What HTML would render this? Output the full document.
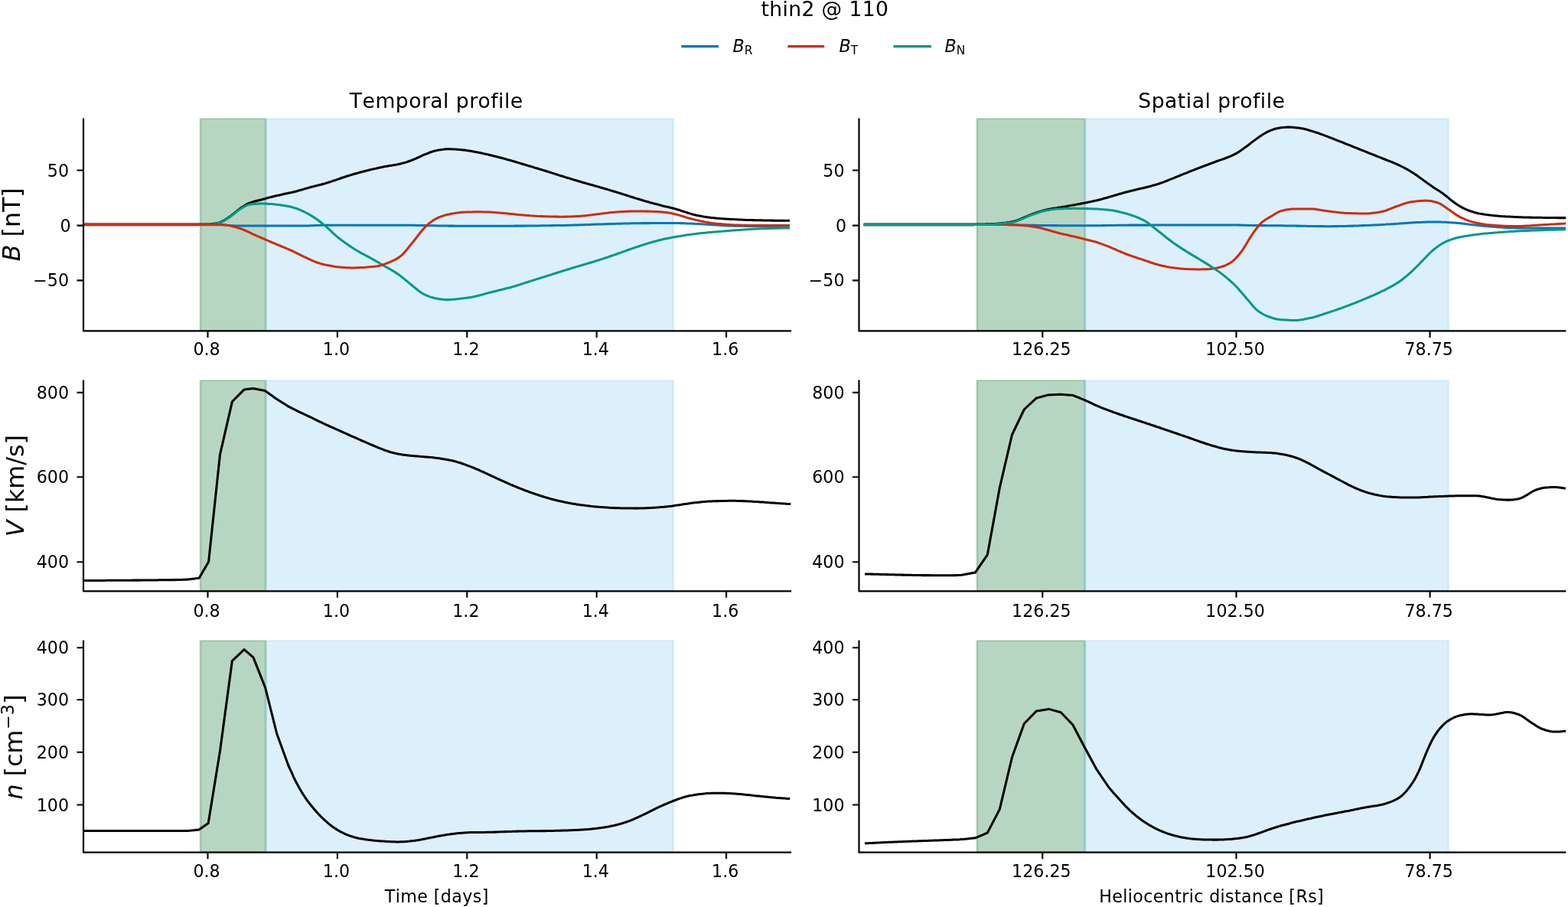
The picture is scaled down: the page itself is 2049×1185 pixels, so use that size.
<!DOCTYPE html>
<html lang="en">
<head>
<meta charset="utf-8">
<title>thin2 @ 110</title>
<style>
html,body{margin:0;padding:0;background:#fff;}
body{width:2049px;height:1185px;overflow:hidden;}
svg{display:block;}
</style>
</head>
<body>
<svg width="2049" height="1185" viewBox="0 0 2049 1185" font-family='"DejaVu Sans", "Liberation Sans", sans-serif' fill="#000" style="font-kerning:none;font-variant-ligatures:none">
<rect width="2049" height="1185" fill="#fff"/>
<defs>
<clipPath id="cpL1"><rect x="109.0" y="154.6" width="925.1" height="277.8"/></clipPath>
<clipPath id="cpL2"><rect x="109.0" y="496.6" width="925.1" height="275.7"/></clipPath>
<clipPath id="cpL3"><rect x="109.0" y="836.4" width="925.1" height="277.3"/></clipPath>
<clipPath id="cpR1"><rect x="1122.5" y="154.6" width="923.9" height="277.8"/></clipPath>
<clipPath id="cpR2"><rect x="1122.5" y="496.6" width="923.9" height="275.7"/></clipPath>
<clipPath id="cpR3"><rect x="1122.5" y="836.4" width="923.9" height="277.3"/></clipPath>
</defs>
<g>
<g clip-path="url(#cpL1)">
<rect x="261.9" y="154.6" width="85.4" height="277.8" fill="#117733" fill-opacity="0.3" stroke="#117733" stroke-opacity="0.26" stroke-width="2.78"/>
<rect x="347.25" y="154.6" width="532.5" height="277.8" fill="#88ccee" fill-opacity="0.3" stroke="#88ccee" stroke-opacity="0.26" stroke-width="2.78"/>
</g>
<g clip-path="url(#cpL1)" fill="none" stroke-width="3.05" stroke-linejoin="round" stroke-linecap="butt">
<path d="M109.0 292.9 L111.0 292.9 L113.0 292.9 L115.0 292.9 L117.0 292.9 L119.0 292.9 L121.0 292.9 L123.0 292.9 L125.0 292.9 L127.0 292.9 L129.0 292.9 L131.0 292.9 L133.0 292.9 L135.0 292.9 L137.0 292.9 L139.0 292.9 L141.0 292.9 L143.0 292.9 L145.0 292.9 L147.0 292.9 L149.0 292.9 L151.0 292.9 L153.0 292.9 L155.0 292.9 L157.0 292.9 L159.0 292.9 L161.0 292.9 L163.0 292.9 L165.0 292.9 L167.0 292.9 L169.0 292.9 L171.0 292.9 L173.0 292.9 L175.0 292.9 L177.0 292.9 L179.0 292.9 L181.0 292.9 L183.0 292.9 L185.0 292.9 L187.0 292.9 L189.0 292.9 L191.0 292.9 L193.0 292.9 L195.0 292.9 L197.0 292.9 L199.0 292.9 L201.0 292.9 L203.0 292.9 L205.0 292.9 L207.0 292.9 L209.0 292.9 L211.0 292.9 L213.0 292.9 L215.0 292.9 L217.0 292.9 L219.0 292.9 L221.0 292.9 L223.0 292.9 L225.0 292.9 L227.0 292.9 L229.0 292.9 L231.0 292.9 L233.0 292.9 L235.0 292.9 L237.0 292.9 L239.0 292.9 L241.0 292.9 L243.0 292.9 L245.0 292.9 L247.0 292.9 L249.0 292.9 L251.0 292.9 L253.0 292.9 L255.0 292.9 L257.0 292.9 L259.0 292.9 L261.0 292.9 L263.0 292.9 L265.0 292.9 L267.0 292.9 L269.0 292.9 L271.0 292.9 L273.0 292.9 L275.0 292.8 L277.0 292.6 L279.0 292.3 L281.0 292.0 L283.0 291.6 L285.0 291.2 L287.0 290.6 L289.0 289.9 L291.0 289.0 L293.0 287.9 L295.0 286.6 L297.0 285.2 L299.0 283.9 L301.0 282.5 L303.0 281.0 L305.0 279.4 L307.0 277.8 L309.0 276.1 L311.0 274.5 L313.0 273.0 L315.0 271.6 L317.0 270.2 L319.0 269.0 L321.0 267.8 L323.0 266.6 L325.0 265.7 L327.0 264.9 L329.0 264.2 L331.0 263.6 L333.0 263.1 L335.0 262.6 L337.0 262.1 L339.0 261.6 L341.0 261.0 L343.0 260.5 L345.0 259.9 L347.0 259.4 L349.0 258.8 L351.0 258.3 L353.0 257.8 L355.0 257.3 L357.0 256.8 L359.0 256.3 L361.0 255.8 L363.0 255.3 L365.0 254.9 L367.0 254.4 L369.0 254.0 L371.0 253.6 L373.0 253.1 L375.0 252.7 L377.0 252.3 L379.0 251.8 L381.0 251.4 L383.0 250.9 L385.0 250.4 L387.0 249.9 L389.0 249.4 L391.0 248.8 L393.0 248.3 L395.0 247.7 L397.0 247.1 L399.0 246.5 L401.0 245.9 L403.0 245.4 L405.0 244.8 L407.0 244.3 L409.0 243.8 L411.0 243.3 L413.0 242.8 L415.0 242.3 L417.0 241.8 L419.0 241.3 L421.0 240.7 L423.0 240.2 L425.0 239.6 L427.0 239.0 L429.0 238.4 L431.0 237.7 L433.0 237.1 L435.0 236.4 L437.0 235.7 L439.0 235.1 L441.0 234.4 L443.0 233.7 L445.0 233.0 L447.0 232.3 L449.0 231.6 L451.0 231.0 L453.0 230.3 L455.0 229.7 L457.0 229.1 L459.0 228.5 L461.0 227.9 L463.0 227.3 L465.0 226.7 L467.0 226.2 L469.0 225.6 L471.0 225.1 L473.0 224.5 L475.0 224.0 L477.0 223.5 L479.0 223.0 L481.0 222.5 L483.0 222.0 L485.0 221.5 L487.0 221.1 L489.0 220.6 L491.0 220.2 L493.0 219.7 L495.0 219.3 L497.0 218.8 L499.0 218.4 L501.0 218.0 L503.0 217.6 L505.0 217.3 L507.0 216.9 L509.0 216.6 L511.0 216.3 L513.0 216.0 L515.0 215.6 L517.0 215.3 L519.0 214.9 L521.0 214.5 L523.0 214.1 L525.0 213.6 L527.0 213.1 L529.0 212.5 L531.0 211.9 L533.0 211.2 L535.0 210.5 L537.0 209.8 L539.0 209.0 L541.0 208.2 L543.0 207.3 L545.0 206.4 L547.0 205.5 L549.0 204.6 L551.0 203.6 L553.0 202.7 L555.0 201.9 L557.0 201.1 L559.0 200.3 L561.0 199.5 L563.0 198.7 L565.0 198.0 L567.0 197.4 L569.0 196.9 L571.0 196.5 L573.0 196.1 L575.0 195.8 L577.0 195.4 L579.0 195.2 L581.0 194.9 L583.0 194.8 L585.0 194.8 L587.0 194.8 L589.0 194.8 L591.0 194.9 L593.0 195.0 L595.0 195.1 L597.0 195.2 L599.0 195.4 L601.0 195.5 L603.0 195.7 L605.0 195.9 L607.0 196.1 L609.0 196.4 L611.0 196.7 L613.0 197.0 L615.0 197.3 L617.0 197.7 L619.0 198.1 L621.0 198.5 L623.0 198.8 L625.0 199.2 L627.0 199.6 L629.0 200.0 L631.0 200.4 L633.0 200.9 L635.0 201.3 L637.0 201.8 L639.0 202.2 L641.0 202.7 L643.0 203.2 L645.0 203.7 L647.0 204.2 L649.0 204.7 L651.0 205.2 L653.0 205.7 L655.0 206.2 L657.0 206.8 L659.0 207.3 L661.0 207.9 L663.0 208.4 L665.0 209.0 L667.0 209.5 L669.0 210.1 L671.0 210.7 L673.0 211.3 L675.0 211.9 L677.0 212.5 L679.0 213.1 L681.0 213.7 L683.0 214.3 L685.0 214.9 L687.0 215.5 L689.0 216.1 L691.0 216.7 L693.0 217.3 L695.0 217.9 L697.0 218.5 L699.0 219.1 L701.0 219.7 L703.0 220.3 L705.0 220.9 L707.0 221.5 L709.0 222.1 L711.0 222.7 L713.0 223.3 L715.0 224.0 L717.0 224.6 L719.0 225.2 L721.0 225.9 L723.0 226.5 L725.0 227.1 L727.0 227.8 L729.0 228.4 L731.0 229.1 L733.0 229.7 L735.0 230.3 L737.0 230.9 L739.0 231.6 L741.0 232.2 L743.0 232.8 L745.0 233.4 L747.0 234.0 L749.0 234.6 L751.0 235.2 L753.0 235.8 L755.0 236.4 L757.0 237.0 L759.0 237.6 L761.0 238.2 L763.0 238.8 L765.0 239.3 L767.0 239.9 L769.0 240.5 L771.0 241.0 L773.0 241.6 L775.0 242.1 L777.0 242.7 L779.0 243.3 L781.0 243.8 L783.0 244.4 L785.0 245.0 L787.0 245.5 L789.0 246.1 L791.0 246.7 L793.0 247.3 L795.0 247.9 L797.0 248.5 L799.0 249.1 L801.0 249.7 L803.0 250.3 L805.0 250.9 L807.0 251.5 L809.0 252.1 L811.0 252.7 L813.0 253.4 L815.0 254.0 L817.0 254.6 L819.0 255.3 L821.0 255.9 L823.0 256.6 L825.0 257.2 L827.0 257.8 L829.0 258.5 L831.0 259.1 L833.0 259.7 L835.0 260.3 L837.0 260.9 L839.0 261.5 L841.0 262.1 L843.0 262.7 L845.0 263.3 L847.0 263.8 L849.0 264.4 L851.0 264.9 L853.0 265.5 L855.0 266.0 L857.0 266.6 L859.0 267.1 L861.0 267.6 L863.0 268.1 L865.0 268.7 L867.0 269.2 L869.0 269.7 L871.0 270.1 L873.0 270.6 L875.0 271.1 L877.0 271.6 L879.0 272.1 L881.0 272.6 L883.0 273.1 L885.0 273.7 L887.0 274.3 L889.0 274.9 L891.0 275.6 L893.0 276.2 L895.0 276.9 L897.0 277.5 L899.0 278.2 L901.0 278.8 L903.0 279.4 L905.0 279.9 L907.0 280.4 L909.0 280.9 L911.0 281.4 L913.0 281.8 L915.0 282.2 L917.0 282.6 L919.0 283.0 L921.0 283.3 L923.0 283.6 L925.0 283.9 L927.0 284.1 L929.0 284.4 L931.0 284.6 L933.0 284.8 L935.0 285.0 L937.0 285.2 L939.0 285.3 L941.0 285.5 L943.0 285.7 L945.0 285.8 L947.0 285.9 L949.0 286.1 L951.0 286.2 L953.0 286.3 L955.0 286.4 L957.0 286.5 L959.0 286.6 L961.0 286.7 L963.0 286.8 L965.0 286.9 L967.0 287.0 L969.0 287.1 L971.0 287.2 L973.0 287.3 L975.0 287.4 L977.0 287.4 L979.0 287.5 L981.0 287.5 L983.0 287.6 L985.0 287.6 L987.0 287.7 L989.0 287.7 L991.0 287.8 L993.0 287.8 L995.0 287.8 L997.0 287.9 L999.0 287.9 L1001.0 288.0 L1003.0 288.0 L1005.0 288.0 L1007.0 288.1 L1009.0 288.1 L1011.0 288.1 L1013.0 288.2 L1015.0 288.2 L1017.0 288.2 L1019.0 288.2 L1021.0 288.3 L1023.0 288.3 L1025.0 288.3 L1027.0 288.3 L1029.0 288.3 L1031.0 288.3 L1032.0 288.3" stroke="#000000"/>
<path d="M109.0 293.6 L111.0 293.6 L113.0 293.6 L115.0 293.6 L117.0 293.6 L119.0 293.6 L121.0 293.6 L123.0 293.6 L125.0 293.6 L127.0 293.6 L129.0 293.6 L131.0 293.6 L133.0 293.6 L135.0 293.6 L137.0 293.6 L139.0 293.6 L141.0 293.6 L143.0 293.6 L145.0 293.6 L147.0 293.6 L149.0 293.6 L151.0 293.6 L153.0 293.6 L155.0 293.6 L157.0 293.6 L159.0 293.6 L161.0 293.6 L163.0 293.6 L165.0 293.6 L167.0 293.6 L169.0 293.6 L171.0 293.6 L173.0 293.6 L175.0 293.6 L177.0 293.6 L179.0 293.6 L181.0 293.6 L183.0 293.6 L185.0 293.6 L187.0 293.6 L189.0 293.6 L191.0 293.6 L193.0 293.6 L195.0 293.6 L197.0 293.6 L199.0 293.6 L201.0 293.6 L203.0 293.6 L205.0 293.6 L207.0 293.6 L209.0 293.6 L211.0 293.6 L213.0 293.6 L215.0 293.6 L217.0 293.6 L219.0 293.6 L221.0 293.6 L223.0 293.6 L225.0 293.6 L227.0 293.6 L229.0 293.6 L231.0 293.6 L233.0 293.6 L235.0 293.6 L237.0 293.6 L239.0 293.6 L241.0 293.6 L243.0 293.6 L245.0 293.6 L247.0 293.6 L249.0 293.6 L251.0 293.6 L253.0 293.6 L255.0 293.6 L257.0 293.6 L259.0 293.6 L261.0 293.6 L263.0 293.6 L265.0 293.6 L267.0 293.6 L269.0 293.6 L271.0 293.6 L273.0 293.6 L275.0 293.6 L277.0 293.6 L279.0 293.6 L281.0 293.6 L283.0 293.6 L285.0 293.6 L287.0 293.6 L289.0 293.6 L291.0 293.7 L293.0 293.8 L295.0 294.1 L297.0 294.3 L299.0 294.5 L301.0 294.6 L303.0 294.7 L305.0 294.8 L307.0 294.9 L309.0 294.9 L311.0 294.9 L313.0 294.9 L315.0 294.9 L317.0 294.9 L319.0 294.9 L321.0 294.9 L323.0 294.9 L325.0 294.9 L327.0 294.9 L329.0 294.9 L331.0 294.9 L333.0 294.9 L335.0 294.9 L337.0 294.9 L339.0 294.9 L341.0 294.9 L343.0 294.9 L345.0 294.9 L347.0 294.9 L349.0 294.9 L351.0 294.9 L353.0 294.9 L355.0 294.9 L357.0 294.9 L359.0 294.9 L361.0 294.9 L363.0 294.9 L365.0 294.9 L367.0 294.9 L369.0 294.9 L371.0 294.9 L373.0 294.9 L375.0 294.9 L377.0 294.9 L379.0 294.9 L381.0 294.9 L383.0 294.9 L385.0 294.9 L387.0 294.9 L389.0 294.9 L391.0 294.9 L393.0 294.9 L395.0 294.9 L397.0 294.9 L399.0 294.9 L401.0 294.9 L403.0 294.9 L405.0 294.8 L407.0 294.8 L409.0 294.7 L411.0 294.6 L413.0 294.5 L415.0 294.4 L417.0 294.4 L419.0 294.3 L421.0 294.2 L423.0 294.2 L425.0 294.2 L427.0 294.2 L429.0 294.2 L431.0 294.2 L433.0 294.2 L435.0 294.2 L437.0 294.2 L439.0 294.2 L441.0 294.2 L443.0 294.2 L445.0 294.2 L447.0 294.2 L449.0 294.2 L451.0 294.2 L453.0 294.2 L455.0 294.2 L457.0 294.2 L459.0 294.2 L461.0 294.2 L463.0 294.2 L465.0 294.2 L467.0 294.2 L469.0 294.2 L471.0 294.2 L473.0 294.2 L475.0 294.2 L477.0 294.2 L479.0 294.2 L481.0 294.2 L483.0 294.2 L485.0 294.2 L487.0 294.2 L489.0 294.2 L491.0 294.2 L493.0 294.2 L495.0 294.2 L497.0 294.2 L499.0 294.2 L501.0 294.2 L503.0 294.2 L505.0 294.2 L507.0 294.2 L509.0 294.2 L511.0 294.2 L513.0 294.2 L515.0 294.2 L517.0 294.2 L519.0 294.2 L521.0 294.2 L523.0 294.2 L525.0 294.2 L527.0 294.2 L529.0 294.2 L531.0 294.2 L533.0 294.2 L535.0 294.2 L537.0 294.3 L539.0 294.3 L541.0 294.3 L543.0 294.4 L545.0 294.4 L547.0 294.4 L549.0 294.5 L551.0 294.5 L553.0 294.5 L555.0 294.6 L557.0 294.6 L559.0 294.7 L561.0 294.7 L563.0 294.7 L565.0 294.8 L567.0 294.8 L569.0 294.8 L571.0 294.9 L573.0 294.9 L575.0 294.9 L577.0 295.0 L579.0 295.0 L581.0 295.0 L583.0 295.0 L585.0 295.1 L587.0 295.1 L589.0 295.1 L591.0 295.1 L593.0 295.1 L595.0 295.2 L597.0 295.2 L599.0 295.2 L601.0 295.2 L603.0 295.2 L605.0 295.2 L607.0 295.2 L609.0 295.2 L611.0 295.2 L613.0 295.2 L615.0 295.2 L617.0 295.2 L619.0 295.2 L621.0 295.2 L623.0 295.2 L625.0 295.2 L627.0 295.2 L629.0 295.2 L631.0 295.2 L633.0 295.2 L635.0 295.2 L637.0 295.2 L639.0 295.2 L641.0 295.2 L643.0 295.2 L645.0 295.2 L647.0 295.2 L649.0 295.2 L651.0 295.2 L653.0 295.2 L655.0 295.2 L657.0 295.2 L659.0 295.2 L661.0 295.2 L663.0 295.2 L665.0 295.2 L667.0 295.2 L669.0 295.2 L671.0 295.2 L673.0 295.1 L675.0 295.1 L677.0 295.1 L679.0 295.1 L681.0 295.1 L683.0 295.1 L685.0 295.1 L687.0 295.1 L689.0 295.0 L691.0 295.0 L693.0 295.0 L695.0 295.0 L697.0 295.0 L699.0 294.9 L701.0 294.9 L703.0 294.9 L705.0 294.9 L707.0 294.8 L709.0 294.8 L711.0 294.8 L713.0 294.8 L715.0 294.7 L717.0 294.7 L719.0 294.7 L721.0 294.6 L723.0 294.6 L725.0 294.6 L727.0 294.5 L729.0 294.5 L731.0 294.5 L733.0 294.5 L735.0 294.4 L737.0 294.4 L739.0 294.4 L741.0 294.3 L743.0 294.3 L745.0 294.2 L747.0 294.2 L749.0 294.1 L751.0 294.0 L753.0 294.0 L755.0 293.9 L757.0 293.8 L759.0 293.8 L761.0 293.7 L763.0 293.6 L765.0 293.6 L767.0 293.5 L769.0 293.4 L771.0 293.4 L773.0 293.3 L775.0 293.2 L777.0 293.2 L779.0 293.1 L781.0 293.0 L783.0 293.0 L785.0 292.9 L787.0 292.9 L789.0 292.8 L791.0 292.8 L793.0 292.7 L795.0 292.6 L797.0 292.6 L799.0 292.5 L801.0 292.5 L803.0 292.4 L805.0 292.3 L807.0 292.3 L809.0 292.2 L811.0 292.2 L813.0 292.1 L815.0 292.0 L817.0 292.0 L819.0 292.0 L821.0 291.9 L823.0 291.9 L825.0 291.8 L827.0 291.8 L829.0 291.8 L831.0 291.7 L833.0 291.7 L835.0 291.7 L837.0 291.7 L839.0 291.6 L841.0 291.6 L843.0 291.6 L845.0 291.6 L847.0 291.6 L849.0 291.6 L851.0 291.5 L853.0 291.5 L855.0 291.5 L857.0 291.5 L859.0 291.5 L861.0 291.5 L863.0 291.5 L865.0 291.5 L867.0 291.5 L869.0 291.4 L871.0 291.4 L873.0 291.4 L875.0 291.4 L877.0 291.4 L879.0 291.4 L881.0 291.4 L883.0 291.5 L885.0 291.5 L887.0 291.5 L889.0 291.6 L891.0 291.6 L893.0 291.7 L895.0 291.8 L897.0 291.9 L899.0 291.9 L901.0 292.0 L903.0 292.1 L905.0 292.2 L907.0 292.3 L909.0 292.4 L911.0 292.5 L913.0 292.6 L915.0 292.7 L917.0 292.8 L919.0 292.9 L921.0 293.1 L923.0 293.2 L925.0 293.3 L927.0 293.4 L929.0 293.6 L931.0 293.7 L933.0 293.8 L935.0 293.9 L937.0 294.1 L939.0 294.2 L941.0 294.3 L943.0 294.4 L945.0 294.5 L947.0 294.7 L949.0 294.8 L951.0 294.9 L953.0 295.0 L955.0 295.0 L957.0 295.1 L959.0 295.2 L961.0 295.2 L963.0 295.2 L965.0 295.2 L967.0 295.3 L969.0 295.3 L971.0 295.3 L973.0 295.3 L975.0 295.4 L977.0 295.4 L979.0 295.4 L981.0 295.4 L983.0 295.4 L985.0 295.5 L987.0 295.5 L989.0 295.5 L991.0 295.5 L993.0 295.5 L995.0 295.5 L997.0 295.6 L999.0 295.6 L1001.0 295.6 L1003.0 295.6 L1005.0 295.6 L1007.0 295.6 L1009.0 295.6 L1011.0 295.6 L1013.0 295.6 L1015.0 295.6 L1017.0 295.7 L1019.0 295.7 L1021.0 295.7 L1023.0 295.7 L1025.0 295.7 L1027.0 295.7 L1029.0 295.7 L1031.0 295.7 L1032.0 295.7" stroke="#0077bb"/>
<path d="M109.0 293.5 L111.0 293.5 L113.0 293.5 L115.0 293.5 L117.0 293.5 L119.0 293.5 L121.0 293.5 L123.0 293.5 L125.0 293.5 L127.0 293.5 L129.0 293.5 L131.0 293.5 L133.0 293.5 L135.0 293.5 L137.0 293.5 L139.0 293.5 L141.0 293.5 L143.0 293.5 L145.0 293.5 L147.0 293.5 L149.0 293.5 L151.0 293.5 L153.0 293.5 L155.0 293.5 L157.0 293.5 L159.0 293.5 L161.0 293.5 L163.0 293.5 L165.0 293.5 L167.0 293.5 L169.0 293.5 L171.0 293.5 L173.0 293.5 L175.0 293.5 L177.0 293.5 L179.0 293.5 L181.0 293.5 L183.0 293.5 L185.0 293.5 L187.0 293.5 L189.0 293.5 L191.0 293.5 L193.0 293.5 L195.0 293.5 L197.0 293.5 L199.0 293.5 L201.0 293.5 L203.0 293.5 L205.0 293.5 L207.0 293.5 L209.0 293.5 L211.0 293.5 L213.0 293.5 L215.0 293.5 L217.0 293.5 L219.0 293.5 L221.0 293.5 L223.0 293.5 L225.0 293.5 L227.0 293.5 L229.0 293.5 L231.0 293.5 L233.0 293.5 L235.0 293.5 L237.0 293.5 L239.0 293.5 L241.0 293.5 L243.0 293.5 L245.0 293.5 L247.0 293.5 L249.0 293.5 L251.0 293.5 L253.0 293.5 L255.0 293.5 L257.0 293.5 L259.0 293.5 L261.0 293.4 L263.0 293.4 L265.0 293.4 L267.0 293.4 L269.0 293.4 L271.0 293.4 L273.0 293.4 L275.0 293.3 L277.0 293.1 L279.0 292.8 L281.0 292.5 L283.0 292.1 L285.0 291.6 L287.0 291.1 L289.0 290.4 L291.0 289.5 L293.0 288.4 L295.0 287.1 L297.0 285.8 L299.0 284.4 L301.0 283.0 L303.0 281.6 L305.0 280.0 L307.0 278.4 L309.0 276.8 L311.0 275.2 L313.0 273.8 L315.0 272.5 L317.0 271.3 L319.0 270.1 L321.0 269.0 L323.0 268.2 L325.0 267.5 L327.0 267.1 L329.0 266.8 L331.0 266.6 L333.0 266.4 L335.0 266.2 L337.0 266.1 L339.0 266.1 L341.0 266.0 L343.0 266.0 L345.0 266.1 L347.0 266.1 L349.0 266.2 L351.0 266.4 L353.0 266.5 L355.0 266.6 L357.0 266.8 L359.0 267.0 L361.0 267.2 L363.0 267.4 L365.0 267.6 L367.0 267.9 L369.0 268.2 L371.0 268.5 L373.0 268.8 L375.0 269.2 L377.0 269.6 L379.0 270.1 L381.0 270.6 L383.0 271.1 L385.0 271.7 L387.0 272.3 L389.0 273.0 L391.0 273.8 L393.0 274.7 L395.0 275.6 L397.0 276.5 L399.0 277.5 L401.0 278.5 L403.0 279.6 L405.0 280.7 L407.0 281.9 L409.0 283.1 L411.0 284.4 L413.0 285.8 L415.0 287.2 L417.0 288.7 L419.0 290.3 L421.0 291.8 L423.0 293.5 L425.0 295.1 L427.0 296.8 L429.0 298.6 L431.0 300.5 L433.0 302.4 L435.0 304.3 L437.0 306.2 L439.0 307.9 L441.0 309.6 L443.0 311.2 L445.0 312.8 L447.0 314.3 L449.0 315.8 L451.0 317.2 L453.0 318.6 L455.0 320.0 L457.0 321.4 L459.0 322.7 L461.0 324.0 L463.0 325.3 L465.0 326.5 L467.0 327.7 L469.0 328.9 L471.0 330.1 L473.0 331.2 L475.0 332.2 L477.0 333.3 L479.0 334.3 L481.0 335.4 L483.0 336.4 L485.0 337.5 L487.0 338.7 L489.0 339.8 L491.0 341.0 L493.0 342.1 L495.0 343.3 L497.0 344.5 L499.0 345.7 L501.0 346.8 L503.0 348.0 L505.0 349.1 L507.0 350.2 L509.0 351.3 L511.0 352.5 L513.0 353.6 L515.0 354.8 L517.0 356.1 L519.0 357.4 L521.0 358.8 L523.0 360.3 L525.0 361.9 L527.0 363.5 L529.0 365.2 L531.0 366.8 L533.0 368.4 L535.0 370.1 L537.0 371.7 L539.0 373.3 L541.0 375.0 L543.0 376.7 L545.0 378.3 L547.0 379.9 L549.0 381.4 L551.0 382.7 L553.0 383.9 L555.0 384.9 L557.0 385.8 L559.0 386.7 L561.0 387.4 L563.0 388.1 L565.0 388.7 L567.0 389.3 L569.0 389.7 L571.0 390.1 L573.0 390.4 L575.0 390.7 L577.0 391.0 L579.0 391.3 L581.0 391.4 L583.0 391.6 L585.0 391.6 L587.0 391.6 L589.0 391.4 L591.0 391.3 L593.0 391.1 L595.0 390.9 L597.0 390.7 L599.0 390.5 L601.0 390.3 L603.0 390.0 L605.0 389.8 L607.0 389.6 L609.0 389.3 L611.0 389.0 L613.0 388.7 L615.0 388.4 L617.0 388.1 L619.0 387.7 L621.0 387.3 L623.0 386.8 L625.0 386.3 L627.0 385.8 L629.0 385.2 L631.0 384.7 L633.0 384.1 L635.0 383.5 L637.0 383.0 L639.0 382.4 L641.0 381.9 L643.0 381.4 L645.0 380.9 L647.0 380.4 L649.0 379.9 L651.0 379.5 L653.0 379.0 L655.0 378.5 L657.0 378.1 L659.0 377.6 L661.0 377.1 L663.0 376.6 L665.0 376.1 L667.0 375.5 L669.0 375.0 L671.0 374.4 L673.0 373.8 L675.0 373.2 L677.0 372.5 L679.0 371.9 L681.0 371.2 L683.0 370.6 L685.0 369.9 L687.0 369.3 L689.0 368.7 L691.0 368.0 L693.0 367.4 L695.0 366.7 L697.0 366.1 L699.0 365.5 L701.0 364.9 L703.0 364.3 L705.0 363.6 L707.0 363.0 L709.0 362.4 L711.0 361.8 L713.0 361.1 L715.0 360.5 L717.0 359.9 L719.0 359.2 L721.0 358.6 L723.0 357.9 L725.0 357.3 L727.0 356.7 L729.0 356.0 L731.0 355.4 L733.0 354.8 L735.0 354.1 L737.0 353.5 L739.0 352.9 L741.0 352.3 L743.0 351.7 L745.0 351.1 L747.0 350.4 L749.0 349.8 L751.0 349.2 L753.0 348.6 L755.0 348.0 L757.0 347.5 L759.0 346.9 L761.0 346.3 L763.0 345.7 L765.0 345.1 L767.0 344.5 L769.0 343.9 L771.0 343.3 L773.0 342.7 L775.0 342.1 L777.0 341.5 L779.0 340.9 L781.0 340.3 L783.0 339.6 L785.0 339.0 L787.0 338.4 L789.0 337.7 L791.0 337.0 L793.0 336.4 L795.0 335.7 L797.0 335.0 L799.0 334.3 L801.0 333.6 L803.0 332.9 L805.0 332.2 L807.0 331.5 L809.0 330.8 L811.0 330.1 L813.0 329.3 L815.0 328.6 L817.0 327.9 L819.0 327.2 L821.0 326.5 L823.0 325.8 L825.0 325.1 L827.0 324.4 L829.0 323.7 L831.0 323.0 L833.0 322.4 L835.0 321.7 L837.0 321.0 L839.0 320.4 L841.0 319.7 L843.0 319.1 L845.0 318.5 L847.0 317.9 L849.0 317.3 L851.0 316.7 L853.0 316.1 L855.0 315.5 L857.0 314.9 L859.0 314.4 L861.0 313.9 L863.0 313.4 L865.0 312.9 L867.0 312.5 L869.0 312.1 L871.0 311.7 L873.0 311.3 L875.0 310.9 L877.0 310.5 L879.0 310.1 L881.0 309.8 L883.0 309.4 L885.0 309.1 L887.0 308.7 L889.0 308.4 L891.0 308.1 L893.0 307.8 L895.0 307.4 L897.0 307.1 L899.0 306.8 L901.0 306.5 L903.0 306.3 L905.0 306.0 L907.0 305.7 L909.0 305.5 L911.0 305.2 L913.0 305.0 L915.0 304.8 L917.0 304.6 L919.0 304.4 L921.0 304.2 L923.0 304.0 L925.0 303.8 L927.0 303.6 L929.0 303.4 L931.0 303.2 L933.0 303.1 L935.0 302.9 L937.0 302.7 L939.0 302.5 L941.0 302.4 L943.0 302.2 L945.0 302.1 L947.0 301.9 L949.0 301.7 L951.0 301.6 L953.0 301.4 L955.0 301.3 L957.0 301.1 L959.0 301.0 L961.0 300.8 L963.0 300.7 L965.0 300.5 L967.0 300.4 L969.0 300.2 L971.0 300.1 L973.0 299.9 L975.0 299.8 L977.0 299.7 L979.0 299.5 L981.0 299.4 L983.0 299.3 L985.0 299.2 L987.0 299.1 L989.0 299.0 L991.0 298.9 L993.0 298.8 L995.0 298.8 L997.0 298.7 L999.0 298.6 L1001.0 298.5 L1003.0 298.5 L1005.0 298.4 L1007.0 298.4 L1009.0 298.3 L1011.0 298.3 L1013.0 298.2 L1015.0 298.2 L1017.0 298.1 L1019.0 298.1 L1021.0 298.0 L1023.0 298.0 L1025.0 298.0 L1027.0 297.9 L1029.0 297.9 L1031.0 297.9 L1032.0 297.9" stroke="#009988"/>
<path d="M109.0 293.6 L111.0 293.6 L113.0 293.6 L115.0 293.6 L117.0 293.6 L119.0 293.6 L121.0 293.6 L123.0 293.6 L125.0 293.6 L127.0 293.6 L129.0 293.6 L131.0 293.6 L133.0 293.6 L135.0 293.6 L137.0 293.6 L139.0 293.6 L141.0 293.6 L143.0 293.6 L145.0 293.6 L147.0 293.6 L149.0 293.6 L151.0 293.6 L153.0 293.6 L155.0 293.6 L157.0 293.6 L159.0 293.6 L161.0 293.6 L163.0 293.6 L165.0 293.6 L167.0 293.6 L169.0 293.6 L171.0 293.6 L173.0 293.6 L175.0 293.6 L177.0 293.6 L179.0 293.6 L181.0 293.6 L183.0 293.6 L185.0 293.6 L187.0 293.6 L189.0 293.6 L191.0 293.6 L193.0 293.6 L195.0 293.6 L197.0 293.6 L199.0 293.6 L201.0 293.6 L203.0 293.6 L205.0 293.6 L207.0 293.6 L209.0 293.6 L211.0 293.6 L213.0 293.6 L215.0 293.6 L217.0 293.6 L219.0 293.6 L221.0 293.6 L223.0 293.6 L225.0 293.6 L227.0 293.6 L229.0 293.6 L231.0 293.6 L233.0 293.6 L235.0 293.6 L237.0 293.6 L239.0 293.6 L241.0 293.6 L243.0 293.6 L245.0 293.6 L247.0 293.6 L249.0 293.6 L251.0 293.6 L253.0 293.6 L255.0 293.6 L257.0 293.6 L259.0 293.6 L261.0 293.5 L263.0 293.5 L265.0 293.5 L267.0 293.5 L269.0 293.5 L271.0 293.5 L273.0 293.5 L275.0 293.4 L277.0 293.4 L279.0 293.4 L281.0 293.3 L283.0 293.3 L285.0 293.3 L287.0 293.4 L289.0 293.5 L291.0 293.7 L293.0 293.9 L295.0 294.1 L297.0 294.4 L299.0 294.6 L301.0 295.0 L303.0 295.4 L305.0 295.9 L307.0 296.4 L309.0 297.0 L311.0 297.6 L313.0 298.3 L315.0 299.0 L317.0 299.7 L319.0 300.5 L321.0 301.4 L323.0 302.3 L325.0 303.2 L327.0 304.2 L329.0 305.2 L331.0 306.1 L333.0 307.0 L335.0 307.9 L337.0 308.8 L339.0 309.7 L341.0 310.5 L343.0 311.4 L345.0 312.2 L347.0 313.1 L349.0 313.9 L351.0 314.8 L353.0 315.6 L355.0 316.5 L357.0 317.3 L359.0 318.2 L361.0 319.0 L363.0 319.9 L365.0 320.7 L367.0 321.5 L369.0 322.4 L371.0 323.2 L373.0 324.0 L375.0 324.9 L377.0 325.7 L379.0 326.6 L381.0 327.5 L383.0 328.4 L385.0 329.4 L387.0 330.3 L389.0 331.3 L391.0 332.3 L393.0 333.3 L395.0 334.3 L397.0 335.3 L399.0 336.2 L401.0 337.2 L403.0 338.1 L405.0 339.0 L407.0 340.0 L409.0 340.9 L411.0 341.7 L413.0 342.5 L415.0 343.2 L417.0 343.8 L419.0 344.4 L421.0 344.9 L423.0 345.4 L425.0 345.9 L427.0 346.3 L429.0 346.7 L431.0 347.1 L433.0 347.5 L435.0 347.8 L437.0 348.2 L439.0 348.5 L441.0 348.7 L443.0 349.0 L445.0 349.1 L447.0 349.3 L449.0 349.4 L451.0 349.6 L453.0 349.7 L455.0 349.8 L457.0 349.8 L459.0 349.9 L461.0 349.9 L463.0 349.9 L465.0 349.8 L467.0 349.7 L469.0 349.7 L471.0 349.6 L473.0 349.5 L475.0 349.4 L477.0 349.3 L479.0 349.1 L481.0 349.0 L483.0 348.8 L485.0 348.6 L487.0 348.4 L489.0 348.2 L491.0 347.9 L493.0 347.7 L495.0 347.3 L497.0 346.9 L499.0 346.3 L501.0 345.7 L503.0 345.0 L505.0 344.2 L507.0 343.4 L509.0 342.6 L511.0 341.7 L513.0 340.8 L515.0 339.9 L517.0 338.8 L519.0 337.7 L521.0 336.4 L523.0 335.0 L525.0 333.4 L527.0 331.4 L529.0 329.3 L531.0 326.9 L533.0 324.4 L535.0 321.9 L537.0 319.4 L539.0 316.9 L541.0 314.5 L543.0 312.0 L545.0 309.4 L547.0 306.8 L549.0 304.2 L551.0 301.7 L553.0 299.4 L555.0 297.2 L557.0 295.2 L559.0 293.4 L561.0 291.7 L563.0 290.2 L565.0 288.7 L567.0 287.4 L569.0 286.2 L571.0 285.1 L573.0 284.2 L575.0 283.4 L577.0 282.6 L579.0 282.0 L581.0 281.4 L583.0 280.8 L585.0 280.3 L587.0 279.9 L589.0 279.5 L591.0 279.1 L593.0 278.8 L595.0 278.4 L597.0 278.1 L599.0 277.9 L601.0 277.6 L603.0 277.5 L605.0 277.3 L607.0 277.2 L609.0 277.1 L611.0 277.0 L613.0 277.0 L615.0 276.9 L617.0 276.9 L619.0 276.8 L621.0 276.8 L623.0 276.8 L625.0 276.8 L627.0 276.8 L629.0 276.8 L631.0 276.9 L633.0 276.9 L635.0 276.9 L637.0 277.0 L639.0 277.1 L641.0 277.2 L643.0 277.3 L645.0 277.4 L647.0 277.6 L649.0 277.7 L651.0 277.9 L653.0 278.1 L655.0 278.3 L657.0 278.4 L659.0 278.6 L661.0 278.8 L663.0 279.0 L665.0 279.2 L667.0 279.4 L669.0 279.6 L671.0 279.8 L673.0 280.0 L675.0 280.2 L677.0 280.4 L679.0 280.7 L681.0 280.8 L683.0 281.0 L685.0 281.2 L687.0 281.3 L689.0 281.5 L691.0 281.6 L693.0 281.8 L695.0 281.9 L697.0 282.0 L699.0 282.2 L701.0 282.3 L703.0 282.4 L705.0 282.5 L707.0 282.6 L709.0 282.6 L711.0 282.7 L713.0 282.8 L715.0 282.8 L717.0 282.9 L719.0 282.9 L721.0 283.0 L723.0 283.0 L725.0 283.1 L727.0 283.1 L729.0 283.1 L731.0 283.2 L733.0 283.2 L735.0 283.2 L737.0 283.2 L739.0 283.1 L741.0 283.1 L743.0 283.0 L745.0 283.0 L747.0 282.9 L749.0 282.8 L751.0 282.7 L753.0 282.6 L755.0 282.5 L757.0 282.4 L759.0 282.2 L761.0 282.1 L763.0 281.9 L765.0 281.7 L767.0 281.5 L769.0 281.3 L771.0 281.0 L773.0 280.8 L775.0 280.5 L777.0 280.2 L779.0 279.9 L781.0 279.7 L783.0 279.4 L785.0 279.2 L787.0 278.9 L789.0 278.7 L791.0 278.5 L793.0 278.3 L795.0 278.0 L797.0 277.8 L799.0 277.6 L801.0 277.4 L803.0 277.2 L805.0 277.0 L807.0 276.9 L809.0 276.7 L811.0 276.6 L813.0 276.5 L815.0 276.4 L817.0 276.3 L819.0 276.2 L821.0 276.1 L823.0 276.1 L825.0 276.0 L827.0 276.0 L829.0 275.9 L831.0 275.9 L833.0 275.9 L835.0 276.0 L837.0 276.0 L839.0 276.0 L841.0 276.0 L843.0 276.1 L845.0 276.1 L847.0 276.1 L849.0 276.2 L851.0 276.2 L853.0 276.3 L855.0 276.4 L857.0 276.5 L859.0 276.6 L861.0 276.7 L863.0 276.8 L865.0 277.0 L867.0 277.2 L869.0 277.4 L871.0 277.6 L873.0 277.9 L875.0 278.2 L877.0 278.6 L879.0 279.0 L881.0 279.5 L883.0 280.0 L885.0 280.5 L887.0 281.0 L889.0 281.6 L891.0 282.2 L893.0 282.8 L895.0 283.5 L897.0 284.1 L899.0 284.7 L901.0 285.2 L903.0 285.8 L905.0 286.3 L907.0 286.8 L909.0 287.4 L911.0 287.8 L913.0 288.3 L915.0 288.7 L917.0 289.1 L919.0 289.5 L921.0 289.9 L923.0 290.2 L925.0 290.6 L927.0 290.9 L929.0 291.2 L931.0 291.5 L933.0 291.7 L935.0 291.9 L937.0 292.2 L939.0 292.4 L941.0 292.6 L943.0 292.8 L945.0 293.0 L947.0 293.1 L949.0 293.3 L951.0 293.5 L953.0 293.6 L955.0 293.7 L957.0 293.8 L959.0 293.9 L961.0 294.0 L963.0 294.0 L965.0 294.1 L967.0 294.1 L969.0 294.2 L971.0 294.2 L973.0 294.3 L975.0 294.3 L977.0 294.4 L979.0 294.4 L981.0 294.4 L983.0 294.4 L985.0 294.4 L987.0 294.4 L989.0 294.4 L991.0 294.4 L993.0 294.4 L995.0 294.4 L997.0 294.4 L999.0 294.4 L1001.0 294.4 L1003.0 294.4 L1005.0 294.4 L1007.0 294.4 L1009.0 294.4 L1011.0 294.4 L1013.0 294.4 L1015.0 294.4 L1017.0 294.4 L1019.0 294.4 L1021.0 294.4 L1023.0 294.4 L1025.0 294.4 L1027.0 294.4 L1029.0 294.4 L1031.0 294.4 L1032.0 294.4" stroke="#d02c0e"/>
</g>
<path d="M109.0 154.6 V432.4 H1034.1" fill="none" stroke="#000" stroke-width="2.2" stroke-linecap="butt" stroke-linejoin="round"/>
<path d="M271.5 432.4 v8.5M440.9 432.4 v8.5M610.3 432.4 v8.5M779.7 432.4 v8.5M949.1 432.4 v8.5M109.0 222.5 h-8.5M109.0 294.6 h-8.5M109.0 366.4 h-8.5" stroke="#000" stroke-width="2.1" fill="none"/>
<g font-size="22.2">
<text x="270.1" y="464.2" text-anchor="middle">0.8</text>
<text x="439.5" y="464.2" text-anchor="middle">1.0</text>
<text x="608.9" y="464.2" text-anchor="middle">1.2</text>
<text x="778.3" y="464.2" text-anchor="middle">1.4</text>
<text x="947.7" y="464.2" text-anchor="middle">1.6</text>
<text x="90.1" y="230.5" text-anchor="end">50</text>
<text x="92.5" y="302.6" text-anchor="end">0</text>
<text x="90.1" y="374.4" text-anchor="end">−50</text>
</g>
</g>
<g>
<g clip-path="url(#cpL2)">
<rect x="261.9" y="496.6" width="85.4" height="275.7" fill="#117733" fill-opacity="0.3" stroke="#117733" stroke-opacity="0.26" stroke-width="2.78"/>
<rect x="347.25" y="496.6" width="532.5" height="275.7" fill="#88ccee" fill-opacity="0.3" stroke="#88ccee" stroke-opacity="0.26" stroke-width="2.78"/>
</g>
<g clip-path="url(#cpL2)" fill="none" stroke-width="3.05" stroke-linejoin="round" stroke-linecap="butt">
<path d="M109.5 758.4 L111.5 758.4 L113.5 758.4 L115.5 758.4 L117.5 758.4 L119.5 758.4 L121.5 758.4 L123.5 758.4 L125.5 758.4 L127.5 758.4 L129.5 758.4 L131.5 758.4 L133.5 758.4 L135.5 758.4 L137.5 758.4 L139.5 758.3 L141.5 758.3 L143.5 758.3 L145.5 758.3 L147.5 758.3 L149.5 758.3 L151.5 758.3 L153.5 758.3 L155.5 758.3 L157.5 758.2 L159.5 758.2 L161.5 758.2 L163.5 758.2 L165.5 758.2 L167.5 758.2 L169.5 758.2 L171.5 758.2 L173.5 758.1 L175.5 758.1 L177.5 758.1 L179.5 758.1 L181.5 758.1 L183.5 758.1 L185.5 758.0 L187.5 758.0 L189.5 758.0 L191.5 758.0 L193.5 758.0 L195.5 758.0 L197.5 757.9 L199.5 757.9 L201.5 757.9 L203.5 757.9 L205.5 757.9 L207.5 757.8 L209.5 757.8 L211.5 757.8 L213.5 757.8 L215.5 757.8 L217.5 757.7 L219.5 757.7 L221.5 757.7 L223.5 757.7 L225.5 757.6 L227.5 757.6 L229.5 757.6 L231.5 757.5 L233.5 757.5 L235.5 757.4 L237.5 757.4 L239.5 757.3 L241.5 757.2 L243.5 757.1 L246.1 757.1 L260.2 755.2 L272.6 734.1 L287.5 593.8 L303.4 524.8 L318.9 509.1 L330.7 507.6 L346.3 510.6 L361.4 521.3 L377.1 531.1 L379.5 532.3 L381.5 533.4 L383.5 534.4 L385.5 535.4 L387.5 536.4 L389.5 537.4 L391.5 538.3 L393.5 539.3 L395.5 540.2 L397.5 541.2 L399.5 542.1 L401.5 543.1 L403.5 544.0 L405.5 544.9 L407.5 545.9 L409.5 546.9 L411.5 547.8 L413.5 548.8 L415.5 549.8 L417.5 550.8 L419.5 551.7 L421.5 552.7 L423.5 553.6 L425.5 554.6 L427.5 555.5 L429.5 556.4 L431.5 557.3 L433.5 558.2 L435.5 559.0 L437.5 559.9 L439.5 560.8 L441.5 561.7 L443.5 562.6 L445.5 563.5 L447.5 564.4 L449.5 565.3 L451.5 566.2 L453.5 567.1 L455.5 568.0 L457.5 568.9 L459.5 569.8 L461.5 570.7 L463.5 571.5 L465.5 572.4 L467.5 573.3 L469.5 574.2 L471.5 575.1 L473.5 576.0 L475.5 576.8 L477.5 577.7 L479.5 578.6 L481.5 579.4 L483.5 580.3 L485.5 581.1 L487.5 582.0 L489.5 582.8 L491.5 583.6 L493.5 584.5 L495.5 585.3 L497.5 586.1 L499.5 586.9 L501.5 587.7 L503.5 588.4 L505.5 589.1 L507.5 589.8 L509.5 590.5 L511.5 591.1 L513.5 591.6 L515.5 592.1 L517.5 592.5 L519.5 592.9 L521.5 593.3 L523.5 593.6 L525.5 594.0 L527.5 594.2 L529.5 594.5 L531.5 594.8 L533.5 595.0 L535.5 595.2 L537.5 595.4 L539.5 595.6 L541.5 595.8 L543.5 596.0 L545.5 596.1 L547.5 596.3 L549.5 596.4 L551.5 596.6 L553.5 596.7 L555.5 596.9 L557.5 597.0 L559.5 597.2 L561.5 597.4 L563.5 597.6 L565.5 597.8 L567.5 598.0 L569.5 598.3 L571.5 598.5 L573.5 598.8 L575.5 599.1 L577.5 599.4 L579.5 599.7 L581.5 600.1 L583.5 600.4 L585.5 600.8 L587.5 601.2 L589.5 601.6 L591.5 602.0 L593.5 602.5 L595.5 603.0 L597.5 603.6 L599.5 604.2 L601.5 604.8 L603.5 605.5 L605.5 606.2 L607.5 606.9 L609.5 607.7 L611.5 608.4 L613.5 609.1 L615.5 609.9 L617.5 610.7 L619.5 611.5 L621.5 612.3 L623.5 613.2 L625.5 614.0 L627.5 614.9 L629.5 615.8 L631.5 616.7 L633.5 617.7 L635.5 618.6 L637.5 619.5 L639.5 620.5 L641.5 621.4 L643.5 622.3 L645.5 623.2 L647.5 624.2 L649.5 625.1 L651.5 626.0 L653.5 626.9 L655.5 627.8 L657.5 628.7 L659.5 629.6 L661.5 630.5 L663.5 631.4 L665.5 632.3 L667.5 633.2 L669.5 634.0 L671.5 634.9 L673.5 635.7 L675.5 636.5 L677.5 637.3 L679.5 638.1 L681.5 638.9 L683.5 639.7 L685.5 640.5 L687.5 641.2 L689.5 641.9 L691.5 642.7 L693.5 643.4 L695.5 644.1 L697.5 644.8 L699.5 645.5 L701.5 646.1 L703.5 646.8 L705.5 647.5 L707.5 648.1 L709.5 648.7 L711.5 649.4 L713.5 650.0 L715.5 650.5 L717.5 651.1 L719.5 651.7 L721.5 652.2 L723.5 652.7 L725.5 653.2 L727.5 653.7 L729.5 654.2 L731.5 654.7 L733.5 655.1 L735.5 655.6 L737.5 656.0 L739.5 656.4 L741.5 656.8 L743.5 657.2 L745.5 657.5 L747.5 657.9 L749.5 658.2 L751.5 658.6 L753.5 658.9 L755.5 659.2 L757.5 659.5 L759.5 659.8 L761.5 660.0 L763.5 660.3 L765.5 660.6 L767.5 660.8 L769.5 661.0 L771.5 661.3 L773.5 661.5 L775.5 661.7 L777.5 661.9 L779.5 662.0 L781.5 662.2 L783.5 662.4 L785.5 662.5 L787.5 662.7 L789.5 662.8 L791.5 663.0 L793.5 663.1 L795.5 663.2 L797.5 663.4 L799.5 663.5 L801.5 663.6 L803.5 663.6 L805.5 663.7 L807.5 663.8 L809.5 663.8 L811.5 663.9 L813.5 663.9 L815.5 663.9 L817.5 664.0 L819.5 664.0 L821.5 664.0 L823.5 664.0 L825.5 664.0 L827.5 664.0 L829.5 664.1 L831.5 664.1 L833.5 664.1 L835.5 664.0 L837.5 664.0 L839.5 664.0 L841.5 663.9 L843.5 663.8 L845.5 663.8 L847.5 663.7 L849.5 663.6 L851.5 663.5 L853.5 663.3 L855.5 663.2 L857.5 663.1 L859.5 662.9 L861.5 662.8 L863.5 662.6 L865.5 662.4 L867.5 662.3 L869.5 662.1 L871.5 661.9 L873.5 661.6 L875.5 661.4 L877.5 661.2 L879.5 660.9 L881.5 660.6 L883.5 660.3 L885.5 660.1 L887.5 659.7 L889.5 659.4 L891.5 659.1 L893.5 658.8 L895.5 658.5 L897.5 658.2 L899.5 657.9 L901.5 657.6 L903.5 657.3 L905.5 657.1 L907.5 656.8 L909.5 656.6 L911.5 656.4 L913.5 656.2 L915.5 656.0 L917.5 655.8 L919.5 655.6 L921.5 655.4 L923.5 655.3 L925.5 655.1 L927.5 655.0 L929.5 654.9 L931.5 654.8 L933.5 654.8 L935.5 654.7 L937.5 654.6 L939.5 654.6 L941.5 654.5 L943.5 654.5 L945.5 654.4 L947.5 654.4 L949.5 654.4 L951.5 654.3 L953.5 654.3 L955.5 654.3 L957.5 654.3 L959.5 654.3 L961.5 654.3 L963.5 654.4 L965.5 654.4 L967.5 654.5 L969.5 654.6 L971.5 654.6 L973.5 654.7 L975.5 654.8 L977.5 654.9 L979.5 655.0 L981.5 655.1 L983.5 655.2 L985.5 655.4 L987.5 655.5 L989.5 655.6 L991.5 655.7 L993.5 655.9 L995.5 656.0 L997.5 656.1 L999.5 656.3 L1001.5 656.4 L1003.5 656.6 L1005.5 656.7 L1007.5 656.9 L1009.5 657.0 L1011.5 657.1 L1013.5 657.3 L1015.5 657.4 L1017.5 657.6 L1019.5 657.7 L1021.5 657.8 L1023.5 658.0 L1025.5 658.1 L1027.5 658.2 L1029.5 658.4 L1031.5 658.5 L1033.4 658.6" stroke="#000000"/>
</g>
<path d="M109.0 496.6 V772.3 H1034.1" fill="none" stroke="#000" stroke-width="2.2" stroke-linecap="butt" stroke-linejoin="round"/>
<path d="M271.5 772.3 v8.5M440.9 772.3 v8.5M610.3 772.3 v8.5M779.7 772.3 v8.5M949.1 772.3 v8.5M109.0 512.9 h-8.5M109.0 623.3 h-8.5M109.0 734.3 h-8.5" stroke="#000" stroke-width="2.1" fill="none"/>
<g font-size="22.2">
<text x="270.1" y="806.0" text-anchor="middle">0.8</text>
<text x="439.5" y="806.0" text-anchor="middle">1.0</text>
<text x="608.9" y="806.0" text-anchor="middle">1.2</text>
<text x="778.3" y="806.0" text-anchor="middle">1.4</text>
<text x="947.7" y="806.0" text-anchor="middle">1.6</text>
<text x="90.1" y="520.9" text-anchor="end">800</text>
<text x="90.1" y="631.3" text-anchor="end">600</text>
<text x="90.1" y="742.3" text-anchor="end">400</text>
</g>
</g>
<g>
<g clip-path="url(#cpL3)">
<rect x="261.9" y="836.4" width="85.4" height="277.3" fill="#117733" fill-opacity="0.3" stroke="#117733" stroke-opacity="0.26" stroke-width="2.78"/>
<rect x="347.25" y="836.4" width="532.5" height="277.3" fill="#88ccee" fill-opacity="0.3" stroke="#88ccee" stroke-opacity="0.26" stroke-width="2.78"/>
</g>
<g clip-path="url(#cpL3)" fill="none" stroke-width="3.05" stroke-linejoin="round" stroke-linecap="butt">
<path d="M109.5 1085.4 L111.5 1085.4 L113.5 1085.4 L115.5 1085.4 L117.5 1085.4 L119.5 1085.4 L121.5 1085.4 L123.5 1085.4 L125.5 1085.4 L127.5 1085.4 L129.5 1085.4 L131.5 1085.4 L133.5 1085.4 L135.5 1085.4 L137.5 1085.4 L139.5 1085.4 L141.5 1085.4 L143.5 1085.4 L145.5 1085.4 L147.5 1085.4 L149.5 1085.4 L151.5 1085.4 L153.5 1085.4 L155.5 1085.4 L157.5 1085.4 L159.5 1085.4 L161.5 1085.4 L163.5 1085.4 L165.5 1085.4 L167.5 1085.4 L169.5 1085.4 L171.5 1085.4 L173.5 1085.4 L175.5 1085.4 L177.5 1085.4 L179.5 1085.4 L181.5 1085.4 L183.5 1085.4 L185.5 1085.4 L187.5 1085.4 L189.5 1085.4 L191.5 1085.4 L193.5 1085.4 L195.5 1085.4 L197.5 1085.4 L199.5 1085.4 L201.5 1085.4 L203.5 1085.4 L205.5 1085.4 L207.5 1085.4 L209.5 1085.4 L211.5 1085.4 L213.5 1085.4 L215.5 1085.4 L217.5 1085.4 L219.5 1085.4 L221.5 1085.4 L223.5 1085.4 L225.5 1085.4 L227.5 1085.4 L229.5 1085.4 L231.5 1085.4 L233.5 1085.4 L235.5 1085.4 L237.5 1085.4 L239.5 1085.4 L241.5 1085.4 L243.5 1085.4 L244.9 1085.4 L260.0 1084.1 L272.2 1075.6 L287.7 979.9 L303.4 863.3 L319.1 848.6 L331.0 858.9 L346.7 898.5 L361.7 958.5 L377.0 1000.5 L379.5 1005.8 L381.5 1010.2 L383.5 1014.8 L385.5 1019.0 L387.5 1022.9 L389.5 1026.6 L391.5 1030.2 L393.5 1033.6 L395.5 1036.9 L397.5 1040.0 L399.5 1043.0 L401.5 1045.8 L403.5 1048.5 L405.5 1051.1 L407.5 1053.5 L409.5 1055.9 L411.5 1058.3 L413.5 1060.6 L415.5 1062.8 L417.5 1064.9 L419.5 1067.0 L421.5 1068.9 L423.5 1070.8 L425.5 1072.7 L427.5 1074.4 L429.5 1076.1 L431.5 1077.7 L433.5 1079.2 L435.5 1080.7 L437.5 1082.1 L439.5 1083.4 L441.5 1084.6 L443.5 1085.8 L445.5 1086.9 L447.5 1087.9 L449.5 1088.9 L451.5 1089.8 L453.5 1090.7 L455.5 1091.4 L457.5 1092.2 L459.5 1092.8 L461.5 1093.4 L463.5 1094.0 L465.5 1094.5 L467.5 1095.0 L469.5 1095.4 L471.5 1095.7 L473.5 1096.1 L475.5 1096.4 L477.5 1096.7 L479.5 1097.0 L481.5 1097.2 L483.5 1097.5 L485.5 1097.7 L487.5 1098.0 L489.5 1098.2 L491.5 1098.4 L493.5 1098.5 L495.5 1098.7 L497.5 1098.9 L499.5 1099.0 L501.5 1099.1 L503.5 1099.3 L505.5 1099.4 L507.5 1099.5 L509.5 1099.6 L511.5 1099.7 L513.5 1099.8 L515.5 1099.8 L517.5 1099.9 L519.5 1099.9 L521.5 1099.9 L523.5 1099.8 L525.5 1099.8 L527.5 1099.7 L529.5 1099.6 L531.5 1099.4 L533.5 1099.2 L535.5 1099.1 L537.5 1098.8 L539.5 1098.6 L541.5 1098.4 L543.5 1098.1 L545.5 1097.8 L547.5 1097.4 L549.5 1097.1 L551.5 1096.7 L553.5 1096.3 L555.5 1095.9 L557.5 1095.5 L559.5 1095.1 L561.5 1094.7 L563.5 1094.3 L565.5 1093.9 L567.5 1093.5 L569.5 1093.1 L571.5 1092.7 L573.5 1092.3 L575.5 1091.9 L577.5 1091.6 L579.5 1091.2 L581.5 1090.9 L583.5 1090.5 L585.5 1090.2 L587.5 1090.0 L589.5 1089.7 L591.5 1089.4 L593.5 1089.2 L595.5 1089.0 L597.5 1088.8 L599.5 1088.6 L601.5 1088.4 L603.5 1088.2 L605.5 1088.1 L607.5 1087.9 L609.5 1087.8 L611.5 1087.7 L613.5 1087.6 L615.5 1087.5 L617.5 1087.5 L619.5 1087.5 L621.5 1087.4 L623.5 1087.4 L625.5 1087.4 L627.5 1087.4 L629.5 1087.4 L631.5 1087.4 L633.5 1087.4 L635.5 1087.3 L637.5 1087.3 L639.5 1087.3 L641.5 1087.2 L643.5 1087.2 L645.5 1087.1 L647.5 1087.1 L649.5 1087.0 L651.5 1086.9 L653.5 1086.8 L655.5 1086.8 L657.5 1086.7 L659.5 1086.6 L661.5 1086.6 L663.5 1086.5 L665.5 1086.4 L667.5 1086.4 L669.5 1086.3 L671.5 1086.2 L673.5 1086.2 L675.5 1086.1 L677.5 1086.1 L679.5 1086.0 L681.5 1086.0 L683.5 1085.9 L685.5 1085.9 L687.5 1085.9 L689.5 1085.8 L691.5 1085.8 L693.5 1085.8 L695.5 1085.8 L697.5 1085.7 L699.5 1085.7 L701.5 1085.7 L703.5 1085.7 L705.5 1085.7 L707.5 1085.6 L709.5 1085.6 L711.5 1085.6 L713.5 1085.6 L715.5 1085.5 L717.5 1085.5 L719.5 1085.5 L721.5 1085.4 L723.5 1085.4 L725.5 1085.3 L727.5 1085.3 L729.5 1085.2 L731.5 1085.2 L733.5 1085.1 L735.5 1085.1 L737.5 1085.0 L739.5 1085.0 L741.5 1084.9 L743.5 1084.8 L745.5 1084.8 L747.5 1084.7 L749.5 1084.6 L751.5 1084.5 L753.5 1084.4 L755.5 1084.3 L757.5 1084.2 L759.5 1084.1 L761.5 1084.0 L763.5 1083.8 L765.5 1083.7 L767.5 1083.5 L769.5 1083.4 L771.5 1083.2 L773.5 1083.0 L775.5 1082.8 L777.5 1082.6 L779.5 1082.4 L781.5 1082.1 L783.5 1081.8 L785.5 1081.6 L787.5 1081.3 L789.5 1081.0 L791.5 1080.6 L793.5 1080.3 L795.5 1079.9 L797.5 1079.5 L799.5 1079.1 L801.5 1078.7 L803.5 1078.2 L805.5 1077.7 L807.5 1077.2 L809.5 1076.7 L811.5 1076.1 L813.5 1075.5 L815.5 1074.9 L817.5 1074.3 L819.5 1073.6 L821.5 1072.9 L823.5 1072.1 L825.5 1071.3 L827.5 1070.5 L829.5 1069.6 L831.5 1068.7 L833.5 1067.8 L835.5 1066.9 L837.5 1066.0 L839.5 1065.0 L841.5 1064.0 L843.5 1063.1 L845.5 1062.1 L847.5 1061.1 L849.5 1060.1 L851.5 1059.1 L853.5 1058.1 L855.5 1057.1 L857.5 1056.1 L859.5 1055.1 L861.5 1054.2 L863.5 1053.3 L865.5 1052.4 L867.5 1051.5 L869.5 1050.6 L871.5 1049.8 L873.5 1048.9 L875.5 1048.1 L877.5 1047.3 L879.5 1046.5 L881.5 1045.8 L883.5 1045.0 L885.5 1044.3 L887.5 1043.6 L889.5 1042.9 L891.5 1042.2 L893.5 1041.6 L895.5 1041.1 L897.5 1040.6 L899.5 1040.1 L901.5 1039.6 L903.5 1039.2 L905.5 1038.9 L907.5 1038.5 L909.5 1038.2 L911.5 1037.9 L913.5 1037.6 L915.5 1037.4 L917.5 1037.2 L919.5 1036.9 L921.5 1036.8 L923.5 1036.6 L925.5 1036.5 L927.5 1036.4 L929.5 1036.3 L931.5 1036.2 L933.5 1036.2 L935.5 1036.2 L937.5 1036.2 L939.5 1036.2 L941.5 1036.2 L943.5 1036.2 L945.5 1036.2 L947.5 1036.3 L949.5 1036.4 L951.5 1036.4 L953.5 1036.5 L955.5 1036.7 L957.5 1036.8 L959.5 1036.9 L961.5 1037.1 L963.5 1037.2 L965.5 1037.4 L967.5 1037.6 L969.5 1037.8 L971.5 1038.0 L973.5 1038.2 L975.5 1038.4 L977.5 1038.6 L979.5 1038.8 L981.5 1039.0 L983.5 1039.2 L985.5 1039.5 L987.5 1039.7 L989.5 1039.9 L991.5 1040.1 L993.5 1040.3 L995.5 1040.5 L997.5 1040.7 L999.5 1040.9 L1001.5 1041.1 L1003.5 1041.3 L1005.5 1041.5 L1007.5 1041.7 L1009.5 1041.8 L1011.5 1042.0 L1013.5 1042.2 L1015.5 1042.4 L1017.5 1042.5 L1019.5 1042.7 L1021.5 1042.8 L1023.5 1043.0 L1025.5 1043.1 L1027.5 1043.3 L1029.5 1043.4 L1031.5 1043.5 L1032.3 1043.6" stroke="#000000"/>
</g>
<path d="M109.0 836.4 V1113.7 H1034.1" fill="none" stroke="#000" stroke-width="2.2" stroke-linecap="butt" stroke-linejoin="round"/>
<path d="M271.5 1113.7 v8.5M440.9 1113.7 v8.5M610.3 1113.7 v8.5M779.7 1113.7 v8.5M949.1 1113.7 v8.5M109.0 846.2 h-8.5M109.0 914.3 h-8.5M109.0 982.8 h-8.5M109.0 1051.5 h-8.5" stroke="#000" stroke-width="2.1" fill="none"/>
<g font-size="22.2">
<text x="270.1" y="1145.6" text-anchor="middle">0.8</text>
<text x="439.5" y="1145.6" text-anchor="middle">1.0</text>
<text x="608.9" y="1145.6" text-anchor="middle">1.2</text>
<text x="778.3" y="1145.6" text-anchor="middle">1.4</text>
<text x="947.7" y="1145.6" text-anchor="middle">1.6</text>
<text x="90.1" y="854.2" text-anchor="end">400</text>
<text x="90.1" y="922.3" text-anchor="end">300</text>
<text x="90.1" y="990.8" text-anchor="end">200</text>
<text x="90.1" y="1059.5" text-anchor="end">100</text>
</g>
</g>
<g>
<g clip-path="url(#cpR1)">
<rect x="1276.8" y="154.6" width="141.0" height="277.8" fill="#117733" fill-opacity="0.3" stroke="#117733" stroke-opacity="0.26" stroke-width="2.78"/>
<rect x="1417.8" y="154.6" width="475.0" height="277.8" fill="#88ccee" fill-opacity="0.3" stroke="#88ccee" stroke-opacity="0.26" stroke-width="2.78"/>
</g>
<g clip-path="url(#cpR1)" fill="none" stroke-width="3.05" stroke-linejoin="round" stroke-linecap="butt">
<path d="M1128.6 292.9 L1130.6 292.9 L1132.6 292.9 L1134.6 292.9 L1136.6 292.9 L1138.6 292.9 L1140.6 292.9 L1142.6 292.9 L1144.6 292.9 L1146.6 292.9 L1148.6 292.9 L1150.6 292.9 L1152.6 292.9 L1154.6 292.9 L1156.6 292.9 L1158.6 292.9 L1160.6 292.9 L1162.6 292.9 L1164.6 292.9 L1166.6 292.9 L1168.6 292.9 L1170.6 292.9 L1172.6 292.9 L1174.6 292.9 L1176.6 292.9 L1178.6 292.9 L1180.6 292.9 L1182.6 292.9 L1184.6 292.9 L1186.6 292.9 L1188.6 292.9 L1190.6 292.9 L1192.6 292.9 L1194.6 292.9 L1196.6 292.9 L1198.6 292.9 L1200.6 292.9 L1202.6 292.9 L1204.6 292.9 L1206.6 292.9 L1208.6 292.9 L1210.6 292.9 L1212.6 292.9 L1214.6 292.9 L1216.6 292.9 L1218.6 292.9 L1220.6 292.9 L1222.6 292.9 L1224.6 292.9 L1226.6 292.9 L1228.6 292.9 L1230.6 292.9 L1232.6 292.9 L1234.6 292.9 L1236.6 292.9 L1238.6 292.9 L1240.6 292.9 L1242.6 292.9 L1244.6 292.9 L1246.6 292.9 L1248.6 292.9 L1250.6 292.9 L1252.6 292.9 L1254.6 292.9 L1256.6 292.9 L1258.6 292.9 L1260.6 292.9 L1262.6 292.9 L1264.6 292.9 L1266.6 292.9 L1268.6 292.9 L1270.6 292.9 L1272.6 292.9 L1274.6 292.9 L1276.6 292.9 L1278.6 292.9 L1280.6 292.9 L1282.6 292.9 L1284.6 292.9 L1286.6 292.9 L1288.6 292.8 L1290.6 292.8 L1292.6 292.7 L1294.6 292.7 L1296.6 292.6 L1298.6 292.5 L1300.6 292.4 L1302.6 292.2 L1304.6 292.0 L1306.6 291.9 L1308.6 291.6 L1310.6 291.4 L1312.6 291.2 L1314.6 291.0 L1316.6 290.7 L1318.6 290.4 L1320.6 290.1 L1322.6 289.7 L1324.6 289.3 L1326.6 288.8 L1328.6 288.2 L1330.6 287.4 L1332.6 286.6 L1334.6 285.7 L1336.6 284.8 L1338.6 283.9 L1340.6 283.1 L1342.6 282.3 L1344.6 281.5 L1346.6 280.7 L1348.6 279.9 L1350.6 279.2 L1352.6 278.5 L1354.6 277.8 L1356.6 277.1 L1358.6 276.5 L1360.6 275.9 L1362.6 275.3 L1364.6 274.7 L1366.6 274.2 L1368.6 273.8 L1370.6 273.3 L1372.6 273.0 L1374.6 272.6 L1376.6 272.3 L1378.6 272.0 L1380.6 271.7 L1382.6 271.3 L1384.6 271.0 L1386.6 270.7 L1388.6 270.3 L1390.6 270.0 L1392.6 269.7 L1394.6 269.3 L1396.6 269.0 L1398.6 268.6 L1400.6 268.3 L1402.6 267.9 L1404.6 267.6 L1406.6 267.2 L1408.6 266.8 L1410.6 266.5 L1412.6 266.1 L1414.6 265.7 L1416.6 265.3 L1418.6 264.9 L1420.6 264.5 L1422.6 264.1 L1424.6 263.7 L1426.6 263.2 L1428.6 262.8 L1430.6 262.3 L1432.6 261.9 L1434.6 261.4 L1436.6 260.9 L1438.6 260.4 L1440.6 259.9 L1442.6 259.3 L1444.6 258.8 L1446.6 258.2 L1448.6 257.6 L1450.6 257.0 L1452.6 256.5 L1454.6 255.9 L1456.6 255.3 L1458.6 254.7 L1460.6 254.1 L1462.6 253.5 L1464.6 252.9 L1466.6 252.4 L1468.6 251.8 L1470.6 251.3 L1472.6 250.8 L1474.6 250.3 L1476.6 249.8 L1478.6 249.3 L1480.6 248.8 L1482.6 248.3 L1484.6 247.8 L1486.6 247.3 L1488.6 246.8 L1490.6 246.3 L1492.6 245.9 L1494.6 245.4 L1496.6 244.9 L1498.6 244.4 L1500.6 243.9 L1502.6 243.4 L1504.6 242.9 L1506.6 242.3 L1508.6 241.8 L1510.6 241.2 L1512.6 240.6 L1514.6 240.0 L1516.6 239.3 L1518.6 238.6 L1520.6 237.9 L1522.6 237.1 L1524.6 236.3 L1526.6 235.5 L1528.6 234.7 L1530.6 233.9 L1532.6 233.1 L1534.6 232.3 L1536.6 231.4 L1538.6 230.6 L1540.6 229.8 L1542.6 229.0 L1544.6 228.2 L1546.6 227.4 L1548.6 226.6 L1550.6 225.8 L1552.6 225.0 L1554.6 224.2 L1556.6 223.4 L1558.6 222.6 L1560.6 221.8 L1562.6 221.0 L1564.6 220.3 L1566.6 219.5 L1568.6 218.7 L1570.6 218.0 L1572.6 217.2 L1574.6 216.5 L1576.6 215.7 L1578.6 215.0 L1580.6 214.2 L1582.6 213.5 L1584.6 212.7 L1586.6 212.0 L1588.6 211.2 L1590.6 210.5 L1592.6 209.8 L1594.6 209.1 L1596.6 208.4 L1598.6 207.7 L1600.6 207.0 L1602.6 206.2 L1604.6 205.5 L1606.6 204.7 L1608.6 203.8 L1610.6 202.9 L1612.6 202.0 L1614.6 200.9 L1616.6 199.8 L1618.6 198.6 L1620.6 197.2 L1622.6 195.8 L1624.6 194.4 L1626.6 192.9 L1628.6 191.4 L1630.6 190.0 L1632.6 188.5 L1634.6 186.9 L1636.6 185.4 L1638.6 183.9 L1640.6 182.4 L1642.6 180.9 L1644.6 179.5 L1646.6 178.1 L1648.6 176.8 L1650.6 175.5 L1652.6 174.3 L1654.6 173.2 L1656.6 172.2 L1658.6 171.2 L1660.6 170.4 L1662.6 169.6 L1664.6 168.8 L1666.6 168.2 L1668.6 167.7 L1670.6 167.4 L1672.6 167.1 L1674.6 166.8 L1676.6 166.6 L1678.6 166.4 L1680.6 166.2 L1682.6 166.1 L1684.6 166.1 L1686.6 166.2 L1688.6 166.3 L1690.6 166.5 L1692.6 166.7 L1694.6 166.9 L1696.6 167.1 L1698.6 167.4 L1700.6 167.7 L1702.6 168.1 L1704.6 168.6 L1706.6 169.1 L1708.6 169.6 L1710.6 170.2 L1712.6 170.8 L1714.6 171.4 L1716.6 172.0 L1718.6 172.6 L1720.6 173.3 L1722.6 173.9 L1724.6 174.7 L1726.6 175.4 L1728.6 176.1 L1730.6 176.9 L1732.6 177.6 L1734.6 178.4 L1736.6 179.1 L1738.6 179.9 L1740.6 180.7 L1742.6 181.5 L1744.6 182.3 L1746.6 183.1 L1748.6 183.9 L1750.6 184.7 L1752.6 185.4 L1754.6 186.2 L1756.6 187.0 L1758.6 187.8 L1760.6 188.6 L1762.6 189.4 L1764.6 190.2 L1766.6 191.0 L1768.6 191.8 L1770.6 192.6 L1772.6 193.4 L1774.6 194.2 L1776.6 195.0 L1778.6 195.8 L1780.6 196.6 L1782.6 197.4 L1784.6 198.2 L1786.6 199.0 L1788.6 199.8 L1790.6 200.6 L1792.6 201.4 L1794.6 202.2 L1796.6 203.0 L1798.6 203.8 L1800.6 204.6 L1802.6 205.4 L1804.6 206.2 L1806.6 207.0 L1808.6 207.8 L1810.6 208.5 L1812.6 209.3 L1814.6 210.1 L1816.6 210.9 L1818.6 211.7 L1820.6 212.5 L1822.6 213.3 L1824.6 214.2 L1826.6 215.1 L1828.6 216.0 L1830.6 217.0 L1832.6 218.0 L1834.6 219.0 L1836.6 220.1 L1838.6 221.2 L1840.6 222.3 L1842.6 223.5 L1844.6 224.7 L1846.6 226.0 L1848.6 227.3 L1850.6 228.6 L1852.6 230.0 L1854.6 231.5 L1856.6 232.9 L1858.6 234.4 L1860.6 235.9 L1862.6 237.3 L1864.6 238.8 L1866.6 240.2 L1868.6 241.6 L1870.6 243.0 L1872.6 244.4 L1874.6 245.8 L1876.6 247.0 L1878.6 248.3 L1880.6 249.5 L1882.6 250.8 L1884.6 252.2 L1886.6 253.6 L1888.6 255.2 L1890.6 256.8 L1892.6 258.4 L1894.6 260.1 L1896.6 261.7 L1898.6 263.3 L1900.6 264.8 L1902.6 266.2 L1904.6 267.5 L1906.6 268.7 L1908.6 270.0 L1910.6 271.1 L1912.6 272.2 L1914.6 273.1 L1916.6 274.0 L1918.6 274.8 L1920.6 275.5 L1922.6 276.2 L1924.6 276.8 L1926.6 277.4 L1928.6 277.9 L1930.6 278.4 L1932.6 278.9 L1934.6 279.3 L1936.6 279.6 L1938.6 280.0 L1940.6 280.3 L1942.6 280.6 L1944.6 280.8 L1946.6 281.1 L1948.6 281.3 L1950.6 281.5 L1952.6 281.7 L1954.6 281.9 L1956.6 282.1 L1958.6 282.3 L1960.6 282.4 L1962.6 282.6 L1964.6 282.7 L1966.6 282.8 L1968.6 282.9 L1970.6 283.0 L1972.6 283.1 L1974.6 283.2 L1976.6 283.3 L1978.6 283.4 L1980.6 283.5 L1982.6 283.6 L1984.6 283.7 L1986.6 283.7 L1988.6 283.8 L1990.6 283.9 L1992.6 283.9 L1994.6 284.0 L1996.6 284.0 L1998.6 284.1 L2000.6 284.1 L2002.6 284.2 L2004.6 284.2 L2006.6 284.2 L2008.6 284.3 L2010.6 284.3 L2012.6 284.3 L2014.6 284.3 L2016.6 284.4 L2018.6 284.4 L2020.6 284.4 L2022.6 284.4 L2024.6 284.5 L2026.6 284.5 L2028.6 284.5 L2030.6 284.5 L2032.6 284.5 L2034.6 284.6 L2036.6 284.6 L2038.6 284.6 L2040.6 284.6 L2042.6 284.6 L2044.6 284.6 L2046.5 284.6" stroke="#000000"/>
<path d="M1128.6 293.6 L1130.6 293.6 L1132.6 293.6 L1134.6 293.6 L1136.6 293.6 L1138.6 293.6 L1140.6 293.6 L1142.6 293.6 L1144.6 293.6 L1146.6 293.6 L1148.6 293.6 L1150.6 293.6 L1152.6 293.6 L1154.6 293.6 L1156.6 293.6 L1158.6 293.6 L1160.6 293.6 L1162.6 293.6 L1164.6 293.6 L1166.6 293.6 L1168.6 293.6 L1170.6 293.6 L1172.6 293.6 L1174.6 293.6 L1176.6 293.6 L1178.6 293.6 L1180.6 293.6 L1182.6 293.6 L1184.6 293.6 L1186.6 293.6 L1188.6 293.6 L1190.6 293.6 L1192.6 293.6 L1194.6 293.6 L1196.6 293.6 L1198.6 293.6 L1200.6 293.6 L1202.6 293.6 L1204.6 293.6 L1206.6 293.6 L1208.6 293.6 L1210.6 293.6 L1212.6 293.6 L1214.6 293.6 L1216.6 293.6 L1218.6 293.6 L1220.6 293.6 L1222.6 293.6 L1224.6 293.6 L1226.6 293.6 L1228.6 293.6 L1230.6 293.6 L1232.6 293.6 L1234.6 293.6 L1236.6 293.6 L1238.6 293.6 L1240.6 293.6 L1242.6 293.6 L1244.6 293.6 L1246.6 293.6 L1248.6 293.6 L1250.6 293.6 L1252.6 293.6 L1254.6 293.6 L1256.6 293.6 L1258.6 293.6 L1260.6 293.6 L1262.6 293.6 L1264.6 293.6 L1266.6 293.6 L1268.6 293.6 L1270.6 293.6 L1272.6 293.6 L1274.6 293.5 L1276.6 293.5 L1278.6 293.5 L1280.6 293.5 L1282.6 293.5 L1284.6 293.5 L1286.6 293.5 L1288.6 293.5 L1290.6 293.5 L1292.6 293.5 L1294.6 293.5 L1296.6 293.4 L1298.6 293.4 L1300.6 293.4 L1302.6 293.4 L1304.6 293.4 L1306.6 293.4 L1308.6 293.4 L1310.6 293.4 L1312.6 293.5 L1314.6 293.5 L1316.6 293.5 L1318.6 293.6 L1320.6 293.6 L1322.6 293.7 L1324.6 293.7 L1326.6 293.8 L1328.6 293.8 L1330.6 293.9 L1332.6 293.9 L1334.6 294.0 L1336.6 294.0 L1338.6 294.1 L1340.6 294.1 L1342.6 294.1 L1344.6 294.2 L1346.6 294.2 L1348.6 294.3 L1350.6 294.3 L1352.6 294.3 L1354.6 294.4 L1356.6 294.4 L1358.6 294.4 L1360.6 294.4 L1362.6 294.5 L1364.6 294.5 L1366.6 294.5 L1368.6 294.5 L1370.6 294.5 L1372.6 294.6 L1374.6 294.6 L1376.6 294.6 L1378.6 294.6 L1380.6 294.6 L1382.6 294.7 L1384.6 294.7 L1386.6 294.7 L1388.6 294.7 L1390.6 294.7 L1392.6 294.7 L1394.6 294.8 L1396.6 294.8 L1398.6 294.8 L1400.6 294.8 L1402.6 294.8 L1404.6 294.8 L1406.6 294.8 L1408.6 294.8 L1410.6 294.8 L1412.6 294.8 L1414.6 294.8 L1416.6 294.8 L1418.6 294.8 L1420.6 294.8 L1422.6 294.8 L1424.6 294.8 L1426.6 294.8 L1428.6 294.8 L1430.6 294.8 L1432.6 294.8 L1434.6 294.7 L1436.6 294.7 L1438.6 294.7 L1440.6 294.6 L1442.6 294.6 L1444.6 294.6 L1446.6 294.5 L1448.6 294.5 L1450.6 294.5 L1452.6 294.4 L1454.6 294.4 L1456.6 294.4 L1458.6 294.3 L1460.6 294.3 L1462.6 294.3 L1464.6 294.3 L1466.6 294.2 L1468.6 294.2 L1470.6 294.2 L1472.6 294.2 L1474.6 294.2 L1476.6 294.1 L1478.6 294.1 L1480.6 294.1 L1482.6 294.1 L1484.6 294.1 L1486.6 294.1 L1488.6 294.1 L1490.6 294.1 L1492.6 294.1 L1494.6 294.1 L1496.6 294.1 L1498.6 294.1 L1500.6 294.1 L1502.6 294.1 L1504.6 294.0 L1506.6 294.0 L1508.6 294.0 L1510.6 294.0 L1512.6 294.0 L1514.6 294.0 L1516.6 294.0 L1518.6 294.0 L1520.6 294.0 L1522.6 294.0 L1524.6 294.0 L1526.6 294.0 L1528.6 294.0 L1530.6 294.0 L1532.6 294.0 L1534.6 294.0 L1536.6 294.0 L1538.6 294.0 L1540.6 294.0 L1542.6 294.0 L1544.6 294.0 L1546.6 294.0 L1548.6 294.0 L1550.6 293.9 L1552.6 293.9 L1554.6 293.9 L1556.6 293.9 L1558.6 293.9 L1560.6 293.9 L1562.6 293.9 L1564.6 293.9 L1566.6 293.9 L1568.6 293.9 L1570.6 293.9 L1572.6 293.9 L1574.6 293.9 L1576.6 293.9 L1578.6 293.9 L1580.6 293.9 L1582.6 293.9 L1584.6 293.9 L1586.6 293.9 L1588.6 293.9 L1590.6 293.9 L1592.6 293.9 L1594.6 293.9 L1596.6 293.9 L1598.6 293.9 L1600.6 293.9 L1602.6 293.9 L1604.6 293.9 L1606.6 293.9 L1608.6 293.9 L1610.6 293.9 L1612.6 293.9 L1614.6 294.0 L1616.6 294.0 L1618.6 294.1 L1620.6 294.1 L1622.6 294.2 L1624.6 294.2 L1626.6 294.3 L1628.6 294.3 L1630.6 294.4 L1632.6 294.4 L1634.6 294.5 L1636.6 294.5 L1638.6 294.5 L1640.6 294.5 L1642.6 294.6 L1644.6 294.6 L1646.6 294.6 L1648.6 294.6 L1650.6 294.6 L1652.6 294.6 L1654.6 294.7 L1656.6 294.7 L1658.6 294.7 L1660.6 294.7 L1662.6 294.7 L1664.6 294.7 L1666.6 294.8 L1668.6 294.8 L1670.6 294.8 L1672.6 294.8 L1674.6 294.8 L1676.6 294.8 L1678.6 294.9 L1680.6 294.9 L1682.6 294.9 L1684.6 294.9 L1686.6 295.0 L1688.6 295.0 L1690.6 295.0 L1692.6 295.1 L1694.6 295.1 L1696.6 295.1 L1698.6 295.2 L1700.6 295.2 L1702.6 295.2 L1704.6 295.3 L1706.6 295.3 L1708.6 295.4 L1710.6 295.4 L1712.6 295.4 L1714.6 295.5 L1716.6 295.5 L1718.6 295.5 L1720.6 295.6 L1722.6 295.6 L1724.6 295.6 L1726.6 295.6 L1728.6 295.6 L1730.6 295.7 L1732.6 295.7 L1734.6 295.7 L1736.6 295.7 L1738.6 295.7 L1740.6 295.7 L1742.6 295.6 L1744.6 295.6 L1746.6 295.6 L1748.6 295.6 L1750.6 295.5 L1752.6 295.5 L1754.6 295.5 L1756.6 295.4 L1758.6 295.4 L1760.6 295.3 L1762.6 295.2 L1764.6 295.2 L1766.6 295.1 L1768.6 295.1 L1770.6 295.0 L1772.6 294.9 L1774.6 294.9 L1776.6 294.8 L1778.6 294.7 L1780.6 294.6 L1782.6 294.6 L1784.6 294.5 L1786.6 294.4 L1788.6 294.4 L1790.6 294.3 L1792.6 294.2 L1794.6 294.1 L1796.6 294.0 L1798.6 293.9 L1800.6 293.8 L1802.6 293.7 L1804.6 293.6 L1806.6 293.5 L1808.6 293.4 L1810.6 293.3 L1812.6 293.1 L1814.6 293.0 L1816.6 292.9 L1818.6 292.8 L1820.6 292.7 L1822.6 292.5 L1824.6 292.4 L1826.6 292.3 L1828.6 292.1 L1830.6 292.0 L1832.6 291.8 L1834.6 291.7 L1836.6 291.5 L1838.6 291.4 L1840.6 291.2 L1842.6 291.1 L1844.6 290.9 L1846.6 290.8 L1848.6 290.7 L1850.6 290.6 L1852.6 290.5 L1854.6 290.5 L1856.6 290.4 L1858.6 290.3 L1860.6 290.2 L1862.6 290.2 L1864.6 290.1 L1866.6 290.0 L1868.6 290.0 L1870.6 290.0 L1872.6 289.9 L1874.6 289.9 L1876.6 290.0 L1878.6 290.0 L1880.6 290.0 L1882.6 290.1 L1884.6 290.2 L1886.6 290.2 L1888.6 290.3 L1890.6 290.4 L1892.6 290.5 L1894.6 290.7 L1896.6 290.8 L1898.6 290.9 L1900.6 291.0 L1902.6 291.2 L1904.6 291.4 L1906.6 291.6 L1908.6 291.8 L1910.6 292.0 L1912.6 292.3 L1914.6 292.5 L1916.6 292.8 L1918.6 293.0 L1920.6 293.3 L1922.6 293.5 L1924.6 293.7 L1926.6 293.9 L1928.6 294.1 L1930.6 294.4 L1932.6 294.6 L1934.6 294.8 L1936.6 295.0 L1938.6 295.2 L1940.6 295.4 L1942.6 295.6 L1944.6 295.8 L1946.6 296.0 L1948.6 296.1 L1950.6 296.3 L1952.6 296.4 L1954.6 296.5 L1956.6 296.7 L1958.6 296.8 L1960.6 296.9 L1962.6 297.0 L1964.6 297.2 L1966.6 297.3 L1968.6 297.4 L1970.6 297.5 L1972.6 297.6 L1974.6 297.7 L1976.6 297.7 L1978.6 297.8 L1980.6 297.8 L1982.6 297.9 L1984.6 297.9 L1986.6 297.9 L1988.6 297.9 L1990.6 297.9 L1992.6 297.9 L1994.6 297.9 L1996.6 297.9 L1998.6 297.9 L2000.6 297.9 L2002.6 297.9 L2004.6 297.9 L2006.6 297.9 L2008.6 297.9 L2010.6 297.9 L2012.6 297.9 L2014.6 297.9 L2016.6 297.9 L2018.6 297.9 L2020.6 297.9 L2022.6 297.9 L2024.6 297.9 L2026.6 297.9 L2028.6 297.9 L2030.6 297.9 L2032.6 297.9 L2034.6 297.9 L2036.6 297.9 L2038.6 297.9 L2040.6 297.9 L2042.6 297.9 L2044.6 297.9 L2046.3 297.9" stroke="#0077bb"/>
<path d="M1128.6 293.6 L1130.6 293.6 L1132.6 293.6 L1134.6 293.6 L1136.6 293.6 L1138.6 293.6 L1140.6 293.6 L1142.6 293.6 L1144.6 293.6 L1146.6 293.6 L1148.6 293.6 L1150.6 293.6 L1152.6 293.6 L1154.6 293.6 L1156.6 293.6 L1158.6 293.6 L1160.6 293.6 L1162.6 293.6 L1164.6 293.6 L1166.6 293.6 L1168.6 293.6 L1170.6 293.6 L1172.6 293.6 L1174.6 293.6 L1176.6 293.6 L1178.6 293.6 L1180.6 293.6 L1182.6 293.6 L1184.6 293.6 L1186.6 293.6 L1188.6 293.6 L1190.6 293.6 L1192.6 293.6 L1194.6 293.6 L1196.6 293.6 L1198.6 293.6 L1200.6 293.6 L1202.6 293.6 L1204.6 293.6 L1206.6 293.6 L1208.6 293.6 L1210.6 293.6 L1212.6 293.6 L1214.6 293.6 L1216.6 293.6 L1218.6 293.6 L1220.6 293.6 L1222.6 293.6 L1224.6 293.6 L1226.6 293.6 L1228.6 293.6 L1230.6 293.6 L1232.6 293.6 L1234.6 293.6 L1236.6 293.6 L1238.6 293.6 L1240.6 293.6 L1242.6 293.6 L1244.6 293.6 L1246.6 293.6 L1248.6 293.6 L1250.6 293.6 L1252.6 293.6 L1254.6 293.6 L1256.6 293.6 L1258.6 293.6 L1260.6 293.6 L1262.6 293.6 L1264.6 293.6 L1266.6 293.6 L1268.6 293.6 L1270.6 293.6 L1272.6 293.6 L1274.6 293.5 L1276.6 293.5 L1278.6 293.5 L1280.6 293.5 L1282.6 293.5 L1284.6 293.5 L1286.6 293.5 L1288.6 293.5 L1290.6 293.5 L1292.6 293.5 L1294.6 293.5 L1296.6 293.4 L1298.6 293.4 L1300.6 293.4 L1302.6 293.4 L1304.6 293.4 L1306.6 293.4 L1308.6 293.4 L1310.6 293.4 L1312.6 293.5 L1314.6 293.5 L1316.6 293.6 L1318.6 293.6 L1320.6 293.7 L1322.6 293.8 L1324.6 293.8 L1326.6 293.9 L1328.6 294.0 L1330.6 294.1 L1332.6 294.3 L1334.6 294.4 L1336.6 294.6 L1338.6 294.7 L1340.6 294.9 L1342.6 295.1 L1344.6 295.3 L1346.6 295.6 L1348.6 295.9 L1350.6 296.2 L1352.6 296.5 L1354.6 296.8 L1356.6 297.2 L1358.6 297.6 L1360.6 298.1 L1362.6 298.6 L1364.6 299.2 L1366.6 299.7 L1368.6 300.3 L1370.6 300.8 L1372.6 301.4 L1374.6 302.0 L1376.6 302.6 L1378.6 303.1 L1380.6 303.7 L1382.6 304.2 L1384.6 304.8 L1386.6 305.3 L1388.6 305.7 L1390.6 306.2 L1392.6 306.6 L1394.6 307.0 L1396.6 307.5 L1398.6 307.9 L1400.6 308.4 L1402.6 308.8 L1404.6 309.3 L1406.6 309.8 L1408.6 310.3 L1410.6 310.8 L1412.6 311.3 L1414.6 311.8 L1416.6 312.3 L1418.6 312.8 L1420.6 313.3 L1422.6 313.7 L1424.6 314.2 L1426.6 314.7 L1428.6 315.2 L1430.6 315.7 L1432.6 316.3 L1434.6 317.0 L1436.6 317.7 L1438.6 318.4 L1440.6 319.1 L1442.6 319.9 L1444.6 320.6 L1446.6 321.4 L1448.6 322.2 L1450.6 323.0 L1452.6 323.8 L1454.6 324.7 L1456.6 325.5 L1458.6 326.4 L1460.6 327.3 L1462.6 328.1 L1464.6 329.0 L1466.6 329.9 L1468.6 330.7 L1470.6 331.5 L1472.6 332.3 L1474.6 333.0 L1476.6 333.7 L1478.6 334.4 L1480.6 335.1 L1482.6 335.8 L1484.6 336.5 L1486.6 337.1 L1488.6 337.8 L1490.6 338.4 L1492.6 339.1 L1494.6 339.8 L1496.6 340.5 L1498.6 341.1 L1500.6 341.8 L1502.6 342.5 L1504.6 343.2 L1506.6 343.8 L1508.6 344.5 L1510.6 345.1 L1512.6 345.6 L1514.6 346.2 L1516.6 346.7 L1518.6 347.2 L1520.6 347.6 L1522.6 348.1 L1524.6 348.5 L1526.6 348.8 L1528.6 349.2 L1530.6 349.5 L1532.6 349.8 L1534.6 350.1 L1536.6 350.3 L1538.6 350.5 L1540.6 350.7 L1542.6 350.9 L1544.6 351.1 L1546.6 351.2 L1548.6 351.4 L1550.6 351.5 L1552.6 351.6 L1554.6 351.7 L1556.6 351.7 L1558.6 351.8 L1560.6 351.8 L1562.6 351.8 L1564.6 351.9 L1566.6 351.9 L1568.6 351.9 L1570.6 351.8 L1572.6 351.8 L1574.6 351.8 L1576.6 351.8 L1578.6 351.7 L1580.6 351.5 L1582.6 351.2 L1584.6 351.0 L1586.6 350.7 L1588.6 350.3 L1590.6 350.0 L1592.6 349.6 L1594.6 349.1 L1596.6 348.5 L1598.6 347.8 L1600.6 347.1 L1602.6 346.2 L1604.6 345.2 L1606.6 344.1 L1608.6 342.9 L1610.6 341.4 L1612.6 339.7 L1614.6 337.8 L1616.6 335.6 L1618.6 333.2 L1620.6 330.8 L1622.6 328.1 L1624.6 325.3 L1626.6 322.1 L1628.6 318.8 L1630.6 315.5 L1632.6 312.1 L1634.6 308.9 L1636.6 305.9 L1638.6 303.0 L1640.6 300.3 L1642.6 297.6 L1644.6 295.1 L1646.6 292.9 L1648.6 290.9 L1650.6 289.2 L1652.6 287.8 L1654.6 286.4 L1656.6 285.2 L1658.6 284.1 L1660.6 282.9 L1662.6 281.8 L1664.6 280.5 L1666.6 279.2 L1668.6 278.0 L1670.6 277.0 L1672.6 276.1 L1674.6 275.5 L1676.6 275.0 L1678.6 274.6 L1680.6 274.1 L1682.6 273.8 L1684.6 273.5 L1686.6 273.2 L1688.6 273.0 L1690.6 272.9 L1692.6 272.9 L1694.6 272.9 L1696.6 272.9 L1698.6 272.9 L1700.6 272.9 L1702.6 272.9 L1704.6 272.9 L1706.6 272.9 L1708.6 272.9 L1710.6 272.9 L1712.6 272.9 L1714.6 273.0 L1716.6 273.1 L1718.6 273.3 L1720.6 273.6 L1722.6 273.9 L1724.6 274.2 L1726.6 274.6 L1728.6 274.9 L1730.6 275.2 L1732.6 275.5 L1734.6 275.8 L1736.6 276.1 L1738.6 276.3 L1740.6 276.6 L1742.6 276.8 L1744.6 277.0 L1746.6 277.3 L1748.6 277.5 L1750.6 277.7 L1752.6 277.9 L1754.6 278.1 L1756.6 278.3 L1758.6 278.4 L1760.6 278.5 L1762.6 278.5 L1764.6 278.6 L1766.6 278.7 L1768.6 278.7 L1770.6 278.8 L1772.6 278.8 L1774.6 278.9 L1776.6 278.9 L1778.6 278.9 L1780.6 279.0 L1782.6 279.0 L1784.6 279.0 L1786.6 278.9 L1788.6 278.9 L1790.6 278.7 L1792.6 278.5 L1794.6 278.3 L1796.6 278.1 L1798.6 277.8 L1800.6 277.5 L1802.6 277.1 L1804.6 276.8 L1806.6 276.3 L1808.6 275.8 L1810.6 275.2 L1812.6 274.5 L1814.6 273.7 L1816.6 272.9 L1818.6 272.1 L1820.6 271.3 L1822.6 270.5 L1824.6 269.8 L1826.6 269.1 L1828.6 268.4 L1830.6 267.7 L1832.6 266.9 L1834.6 266.2 L1836.6 265.6 L1838.6 265.0 L1840.6 264.5 L1842.6 264.1 L1844.6 263.7 L1846.6 263.4 L1848.6 263.2 L1850.6 263.0 L1852.6 262.7 L1854.6 262.5 L1856.6 262.4 L1858.6 262.3 L1860.6 262.2 L1862.6 262.1 L1864.6 262.2 L1866.6 262.3 L1868.6 262.5 L1870.6 262.8 L1872.6 263.2 L1874.6 263.7 L1876.6 264.2 L1878.6 264.8 L1880.6 265.6 L1882.6 266.6 L1884.6 267.8 L1886.6 269.2 L1888.6 270.6 L1890.6 272.0 L1892.6 273.4 L1894.6 274.8 L1896.6 276.2 L1898.6 277.6 L1900.6 279.0 L1902.6 280.4 L1904.6 281.7 L1906.6 282.8 L1908.6 283.9 L1910.6 284.8 L1912.6 285.7 L1914.6 286.6 L1916.6 287.4 L1918.6 288.2 L1920.6 288.9 L1922.6 289.5 L1924.6 290.1 L1926.6 290.6 L1928.6 291.0 L1930.6 291.4 L1932.6 291.8 L1934.6 292.2 L1936.6 292.6 L1938.6 292.9 L1940.6 293.2 L1942.6 293.5 L1944.6 293.7 L1946.6 294.0 L1948.6 294.1 L1950.6 294.3 L1952.6 294.5 L1954.6 294.6 L1956.6 294.7 L1958.6 294.8 L1960.6 295.0 L1962.6 295.1 L1964.6 295.2 L1966.6 295.3 L1968.6 295.3 L1970.6 295.4 L1972.6 295.5 L1974.6 295.5 L1976.6 295.6 L1978.6 295.6 L1980.6 295.6 L1982.6 295.6 L1984.6 295.6 L1986.6 295.5 L1988.6 295.4 L1990.6 295.3 L1992.6 295.2 L1994.6 295.1 L1996.6 295.0 L1998.6 294.9 L2000.6 294.7 L2002.6 294.6 L2004.6 294.4 L2006.6 294.3 L2008.6 294.2 L2010.6 294.0 L2012.6 293.9 L2014.6 293.8 L2016.6 293.7 L2018.6 293.6 L2020.6 293.5 L2022.6 293.4 L2024.6 293.2 L2026.6 293.1 L2028.6 293.0 L2030.6 292.9 L2032.6 292.8 L2034.6 292.7 L2036.6 292.5 L2038.6 292.4 L2040.6 292.3 L2042.6 292.2 L2044.6 292.1 L2046.5 292.0" stroke="#d02c0e"/>
<path d="M1128.6 293.6 L1130.6 293.6 L1132.6 293.6 L1134.6 293.6 L1136.6 293.6 L1138.6 293.6 L1140.6 293.6 L1142.6 293.6 L1144.6 293.6 L1146.6 293.6 L1148.6 293.6 L1150.6 293.6 L1152.6 293.6 L1154.6 293.6 L1156.6 293.6 L1158.6 293.6 L1160.6 293.6 L1162.6 293.6 L1164.6 293.6 L1166.6 293.6 L1168.6 293.6 L1170.6 293.6 L1172.6 293.6 L1174.6 293.6 L1176.6 293.6 L1178.6 293.6 L1180.6 293.6 L1182.6 293.6 L1184.6 293.6 L1186.6 293.6 L1188.6 293.6 L1190.6 293.6 L1192.6 293.6 L1194.6 293.6 L1196.6 293.6 L1198.6 293.6 L1200.6 293.6 L1202.6 293.6 L1204.6 293.6 L1206.6 293.6 L1208.6 293.6 L1210.6 293.6 L1212.6 293.6 L1214.6 293.6 L1216.6 293.6 L1218.6 293.6 L1220.6 293.6 L1222.6 293.6 L1224.6 293.6 L1226.6 293.6 L1228.6 293.6 L1230.6 293.6 L1232.6 293.6 L1234.6 293.6 L1236.6 293.6 L1238.6 293.6 L1240.6 293.6 L1242.6 293.6 L1244.6 293.6 L1246.6 293.6 L1248.6 293.6 L1250.6 293.6 L1252.6 293.6 L1254.6 293.6 L1256.6 293.6 L1258.6 293.6 L1260.6 293.6 L1262.6 293.6 L1264.6 293.6 L1266.6 293.6 L1268.6 293.6 L1270.6 293.6 L1272.6 293.6 L1274.6 293.5 L1276.6 293.5 L1278.6 293.5 L1280.6 293.5 L1282.6 293.5 L1284.6 293.5 L1286.6 293.5 L1288.6 293.4 L1290.6 293.3 L1292.6 293.3 L1294.6 293.2 L1296.6 293.1 L1298.6 293.0 L1300.6 292.8 L1302.6 292.7 L1304.6 292.5 L1306.6 292.3 L1308.6 292.1 L1310.6 291.9 L1312.6 291.7 L1314.6 291.5 L1316.6 291.3 L1318.6 291.0 L1320.6 290.7 L1322.6 290.4 L1324.6 290.1 L1326.6 289.6 L1328.6 289.0 L1330.6 288.2 L1332.6 287.4 L1334.6 286.5 L1336.6 285.6 L1338.6 284.7 L1340.6 283.9 L1342.6 283.0 L1344.6 282.2 L1346.6 281.4 L1348.6 280.6 L1350.6 279.9 L1352.6 279.2 L1354.6 278.5 L1356.6 277.9 L1358.6 277.2 L1360.6 276.6 L1362.6 276.1 L1364.6 275.6 L1366.6 275.1 L1368.6 274.7 L1370.6 274.4 L1372.6 274.0 L1374.6 273.8 L1376.6 273.5 L1378.6 273.3 L1380.6 273.1 L1382.6 272.9 L1384.6 272.8 L1386.6 272.7 L1388.6 272.7 L1390.6 272.6 L1392.6 272.5 L1394.6 272.5 L1396.6 272.4 L1398.6 272.4 L1400.6 272.4 L1402.6 272.3 L1404.6 272.3 L1406.6 272.4 L1408.6 272.4 L1410.6 272.4 L1412.6 272.4 L1414.6 272.5 L1416.6 272.5 L1418.6 272.6 L1420.6 272.6 L1422.6 272.7 L1424.6 272.7 L1426.6 272.8 L1428.6 272.9 L1430.6 272.9 L1432.6 273.0 L1434.6 273.1 L1436.6 273.3 L1438.6 273.4 L1440.6 273.6 L1442.6 273.7 L1444.6 273.9 L1446.6 274.1 L1448.6 274.3 L1450.6 274.6 L1452.6 274.8 L1454.6 275.1 L1456.6 275.4 L1458.6 275.8 L1460.6 276.2 L1462.6 276.7 L1464.6 277.2 L1466.6 277.7 L1468.6 278.2 L1470.6 278.8 L1472.6 279.3 L1474.6 279.9 L1476.6 280.5 L1478.6 281.2 L1480.6 281.9 L1482.6 282.6 L1484.6 283.3 L1486.6 284.1 L1488.6 285.0 L1490.6 285.9 L1492.6 286.8 L1494.6 287.8 L1496.6 289.0 L1498.6 290.2 L1500.6 291.6 L1502.6 293.1 L1504.6 294.7 L1506.6 296.3 L1508.6 298.0 L1510.6 299.6 L1512.6 301.2 L1514.6 302.8 L1516.6 304.3 L1518.6 305.9 L1520.6 307.5 L1522.6 309.1 L1524.6 310.7 L1526.6 312.2 L1528.6 313.8 L1530.6 315.3 L1532.6 316.8 L1534.6 318.2 L1536.6 319.6 L1538.6 320.9 L1540.6 322.3 L1542.6 323.6 L1544.6 324.9 L1546.6 326.1 L1548.6 327.4 L1550.6 328.7 L1552.6 329.9 L1554.6 331.1 L1556.6 332.4 L1558.6 333.6 L1560.6 334.7 L1562.6 335.9 L1564.6 337.1 L1566.6 338.3 L1568.6 339.5 L1570.6 340.7 L1572.6 341.9 L1574.6 343.2 L1576.6 344.4 L1578.6 345.6 L1580.6 346.9 L1582.6 348.2 L1584.6 349.5 L1586.6 350.8 L1588.6 352.1 L1590.6 353.5 L1592.6 354.9 L1594.6 356.4 L1596.6 357.9 L1598.6 359.4 L1600.6 361.0 L1602.6 362.6 L1604.6 364.3 L1606.6 366.0 L1608.6 367.8 L1610.6 369.6 L1612.6 371.5 L1614.6 373.5 L1616.6 375.6 L1618.6 377.9 L1620.6 380.1 L1622.6 382.5 L1624.6 384.8 L1626.6 387.1 L1628.6 389.5 L1630.6 391.8 L1632.6 394.1 L1634.6 396.5 L1636.6 398.9 L1638.6 401.2 L1640.6 403.3 L1642.6 405.1 L1644.6 406.7 L1646.6 408.1 L1648.6 409.3 L1650.6 410.5 L1652.6 411.5 L1654.6 412.5 L1656.6 413.3 L1658.6 414.0 L1660.6 414.7 L1662.6 415.4 L1664.6 415.9 L1666.6 416.4 L1668.6 416.9 L1670.6 417.2 L1672.6 417.5 L1674.6 417.7 L1676.6 417.8 L1678.6 418.0 L1680.6 418.1 L1682.6 418.2 L1684.6 418.3 L1686.6 418.4 L1688.6 418.4 L1690.6 418.5 L1692.6 418.4 L1694.6 418.4 L1696.6 418.2 L1698.6 418.0 L1700.6 417.7 L1702.6 417.4 L1704.6 417.0 L1706.6 416.6 L1708.6 416.2 L1710.6 415.8 L1712.6 415.3 L1714.6 414.9 L1716.6 414.4 L1718.6 413.9 L1720.6 413.3 L1722.6 412.7 L1724.6 412.0 L1726.6 411.4 L1728.6 410.7 L1730.6 410.0 L1732.6 409.4 L1734.6 408.7 L1736.6 408.1 L1738.6 407.4 L1740.6 406.7 L1742.6 406.1 L1744.6 405.4 L1746.6 404.7 L1748.6 404.0 L1750.6 403.3 L1752.6 402.6 L1754.6 401.8 L1756.6 401.1 L1758.6 400.4 L1760.6 399.6 L1762.6 398.9 L1764.6 398.1 L1766.6 397.3 L1768.6 396.6 L1770.6 395.8 L1772.6 395.0 L1774.6 394.2 L1776.6 393.4 L1778.6 392.6 L1780.6 391.7 L1782.6 390.9 L1784.6 390.1 L1786.6 389.2 L1788.6 388.4 L1790.6 387.5 L1792.6 386.6 L1794.6 385.8 L1796.6 384.9 L1798.6 384.0 L1800.6 383.1 L1802.6 382.1 L1804.6 381.2 L1806.6 380.2 L1808.6 379.3 L1810.6 378.3 L1812.6 377.2 L1814.6 376.2 L1816.6 375.1 L1818.6 374.0 L1820.6 372.9 L1822.6 371.7 L1824.6 370.5 L1826.6 369.2 L1828.6 367.9 L1830.6 366.5 L1832.6 365.0 L1834.6 363.4 L1836.6 361.8 L1838.6 360.1 L1840.6 358.4 L1842.6 356.6 L1844.6 354.8 L1846.6 353.0 L1848.6 351.0 L1850.6 349.0 L1852.6 347.0 L1854.6 345.0 L1856.6 342.9 L1858.6 340.9 L1860.6 338.8 L1862.6 336.7 L1864.6 334.6 L1866.6 332.5 L1868.6 330.5 L1870.6 328.6 L1872.6 326.8 L1874.6 325.2 L1876.6 323.6 L1878.6 322.2 L1880.6 320.8 L1882.6 319.5 L1884.6 318.2 L1886.6 317.1 L1888.6 316.2 L1890.6 315.2 L1892.6 314.4 L1894.6 313.6 L1896.6 312.9 L1898.6 312.2 L1900.6 311.6 L1902.6 311.1 L1904.6 310.6 L1906.6 310.1 L1908.6 309.7 L1910.6 309.3 L1912.6 308.9 L1914.6 308.5 L1916.6 308.2 L1918.6 307.9 L1920.6 307.5 L1922.6 307.3 L1924.6 307.0 L1926.6 306.7 L1928.6 306.4 L1930.6 306.2 L1932.6 306.0 L1934.6 305.8 L1936.6 305.5 L1938.6 305.3 L1940.6 305.1 L1942.6 305.0 L1944.6 304.8 L1946.6 304.6 L1948.6 304.4 L1950.6 304.3 L1952.6 304.1 L1954.6 303.9 L1956.6 303.8 L1958.6 303.6 L1960.6 303.5 L1962.6 303.3 L1964.6 303.2 L1966.6 303.0 L1968.6 302.9 L1970.6 302.8 L1972.6 302.6 L1974.6 302.5 L1976.6 302.4 L1978.6 302.2 L1980.6 302.1 L1982.6 302.0 L1984.6 301.9 L1986.6 301.8 L1988.6 301.7 L1990.6 301.6 L1992.6 301.5 L1994.6 301.5 L1996.6 301.4 L1998.6 301.3 L2000.6 301.2 L2002.6 301.1 L2004.6 301.0 L2006.6 300.9 L2008.6 300.9 L2010.6 300.8 L2012.6 300.7 L2014.6 300.6 L2016.6 300.6 L2018.6 300.5 L2020.6 300.4 L2022.6 300.3 L2024.6 300.3 L2026.6 300.2 L2028.6 300.2 L2030.6 300.1 L2032.6 300.1 L2034.6 300.0 L2036.6 300.0 L2038.6 299.9 L2040.6 299.9 L2042.6 299.8 L2044.6 299.8 L2046.5 299.8" stroke="#009988"/>
</g>
<path d="M1122.5 154.6 V432.4 H2046.4" fill="none" stroke="#000" stroke-width="2.2" stroke-linecap="butt" stroke-linejoin="round"/>
<path d="M1362.3 432.4 v8.5M1615.5 432.4 v8.5M1868.6 432.4 v8.5M1122.5 222.5 h-8.5M1122.5 294.6 h-8.5M1122.5 366.4 h-8.5" stroke="#000" stroke-width="2.1" fill="none"/>
<g font-size="22.2">
<text x="1360.9" y="464.2" text-anchor="middle">126.25</text>
<text x="1614.1" y="464.2" text-anchor="middle">102.50</text>
<text x="1867.2" y="464.2" text-anchor="middle">78.75</text>
<text x="1103.6" y="230.5" text-anchor="end">50</text>
<text x="1106.0" y="302.6" text-anchor="end">0</text>
<text x="1103.6" y="374.4" text-anchor="end">−50</text>
</g>
</g>
<g>
<g clip-path="url(#cpR2)">
<rect x="1276.8" y="496.6" width="141.0" height="275.7" fill="#117733" fill-opacity="0.3" stroke="#117733" stroke-opacity="0.26" stroke-width="2.78"/>
<rect x="1417.8" y="496.6" width="475.0" height="275.7" fill="#88ccee" fill-opacity="0.3" stroke="#88ccee" stroke-opacity="0.26" stroke-width="2.78"/>
</g>
<g clip-path="url(#cpR2)" fill="none" stroke-width="3.05" stroke-linejoin="round" stroke-linecap="butt">
<path d="M1130.0 749.9 L1132.0 749.9 L1134.0 750.0 L1136.0 750.0 L1138.0 750.1 L1140.0 750.1 L1142.0 750.2 L1144.0 750.2 L1146.0 750.3 L1148.0 750.3 L1150.0 750.4 L1152.0 750.4 L1154.0 750.5 L1156.0 750.5 L1158.0 750.6 L1160.0 750.6 L1162.0 750.7 L1164.0 750.7 L1166.0 750.8 L1168.0 750.8 L1170.0 750.9 L1172.0 750.9 L1174.0 751.0 L1176.0 751.0 L1178.0 751.1 L1180.0 751.1 L1182.0 751.2 L1184.0 751.2 L1186.0 751.3 L1188.0 751.3 L1190.0 751.3 L1192.0 751.4 L1194.0 751.4 L1196.0 751.5 L1198.0 751.5 L1200.0 751.5 L1202.0 751.5 L1204.0 751.6 L1206.0 751.6 L1208.0 751.6 L1210.0 751.6 L1212.0 751.6 L1214.0 751.6 L1216.0 751.6 L1218.0 751.7 L1220.0 751.7 L1222.0 751.7 L1224.0 751.7 L1226.0 751.7 L1228.0 751.7 L1230.0 751.7 L1232.0 751.7 L1234.0 751.7 L1236.0 751.7 L1238.0 751.7 L1240.0 751.7 L1242.0 751.7 L1244.0 751.7 L1246.0 751.7 L1248.0 751.6 L1250.0 751.6 L1252.0 751.5 L1254.0 751.4 L1256.0 751.3 L1258.0 751.1 L1274.5 747.9 L1290.3 724.9 L1306.3 637.4 L1322.5 568.0 L1338.3 535.0 L1354.0 520.3 L1370.1 515.9 L1385.8 515.3 L1401.9 516.4 L1417.8 522.8 L1422.0 524.8 L1424.0 525.7 L1426.0 526.7 L1428.0 527.6 L1430.0 528.6 L1432.0 529.5 L1434.0 530.4 L1436.0 531.2 L1438.0 532.1 L1440.0 532.9 L1442.0 533.7 L1444.0 534.4 L1446.0 535.2 L1448.0 535.9 L1450.0 536.7 L1452.0 537.4 L1454.0 538.2 L1456.0 538.9 L1458.0 539.6 L1460.0 540.3 L1462.0 541.0 L1464.0 541.7 L1466.0 542.3 L1468.0 543.0 L1470.0 543.7 L1472.0 544.4 L1474.0 545.0 L1476.0 545.7 L1478.0 546.4 L1480.0 547.0 L1482.0 547.7 L1484.0 548.3 L1486.0 549.0 L1488.0 549.7 L1490.0 550.3 L1492.0 551.0 L1494.0 551.6 L1496.0 552.3 L1498.0 553.0 L1500.0 553.6 L1502.0 554.3 L1504.0 555.0 L1506.0 555.6 L1508.0 556.3 L1510.0 557.0 L1512.0 557.7 L1514.0 558.3 L1516.0 559.0 L1518.0 559.7 L1520.0 560.4 L1522.0 561.1 L1524.0 561.8 L1526.0 562.4 L1528.0 563.1 L1530.0 563.8 L1532.0 564.5 L1534.0 565.2 L1536.0 565.8 L1538.0 566.5 L1540.0 567.2 L1542.0 567.9 L1544.0 568.6 L1546.0 569.2 L1548.0 569.9 L1550.0 570.6 L1552.0 571.3 L1554.0 572.0 L1556.0 572.7 L1558.0 573.4 L1560.0 574.2 L1562.0 574.9 L1564.0 575.6 L1566.0 576.3 L1568.0 577.0 L1570.0 577.7 L1572.0 578.3 L1574.0 579.0 L1576.0 579.7 L1578.0 580.3 L1580.0 580.9 L1582.0 581.6 L1584.0 582.2 L1586.0 582.8 L1588.0 583.3 L1590.0 583.9 L1592.0 584.5 L1594.0 585.0 L1596.0 585.5 L1598.0 586.0 L1600.0 586.4 L1602.0 586.8 L1604.0 587.2 L1606.0 587.6 L1608.0 587.9 L1610.0 588.2 L1612.0 588.5 L1614.0 588.7 L1616.0 589.0 L1618.0 589.2 L1620.0 589.4 L1622.0 589.6 L1624.0 589.7 L1626.0 589.9 L1628.0 590.0 L1630.0 590.2 L1632.0 590.3 L1634.0 590.4 L1636.0 590.5 L1638.0 590.7 L1640.0 590.8 L1642.0 590.9 L1644.0 590.9 L1646.0 591.0 L1648.0 591.1 L1650.0 591.2 L1652.0 591.2 L1654.0 591.3 L1656.0 591.4 L1658.0 591.5 L1660.0 591.6 L1662.0 591.7 L1664.0 591.9 L1666.0 592.1 L1668.0 592.3 L1670.0 592.6 L1672.0 592.9 L1674.0 593.2 L1676.0 593.6 L1678.0 593.9 L1680.0 594.3 L1682.0 594.8 L1684.0 595.2 L1686.0 595.7 L1688.0 596.3 L1690.0 596.9 L1692.0 597.5 L1694.0 598.2 L1696.0 598.9 L1698.0 599.7 L1700.0 600.5 L1702.0 601.4 L1704.0 602.3 L1706.0 603.3 L1708.0 604.3 L1710.0 605.3 L1712.0 606.4 L1714.0 607.5 L1716.0 608.6 L1718.0 609.7 L1720.0 610.9 L1722.0 612.0 L1724.0 613.1 L1726.0 614.1 L1728.0 615.2 L1730.0 616.3 L1732.0 617.3 L1734.0 618.4 L1736.0 619.5 L1738.0 620.5 L1740.0 621.6 L1742.0 622.7 L1744.0 623.7 L1746.0 624.8 L1748.0 625.9 L1750.0 626.9 L1752.0 628.0 L1754.0 629.0 L1756.0 630.1 L1758.0 631.2 L1760.0 632.2 L1762.0 633.3 L1764.0 634.3 L1766.0 635.2 L1768.0 636.2 L1770.0 637.1 L1772.0 638.0 L1774.0 638.8 L1776.0 639.7 L1778.0 640.5 L1780.0 641.2 L1782.0 641.9 L1784.0 642.6 L1786.0 643.2 L1788.0 643.9 L1790.0 644.4 L1792.0 645.0 L1794.0 645.5 L1796.0 646.0 L1798.0 646.4 L1800.0 646.8 L1802.0 647.2 L1804.0 647.5 L1806.0 647.9 L1808.0 648.2 L1810.0 648.4 L1812.0 648.7 L1814.0 648.9 L1816.0 649.0 L1818.0 649.2 L1820.0 649.4 L1822.0 649.5 L1824.0 649.6 L1826.0 649.8 L1828.0 649.8 L1830.0 649.9 L1832.0 649.9 L1834.0 649.9 L1836.0 649.9 L1838.0 649.9 L1840.0 649.9 L1842.0 649.9 L1844.0 649.9 L1846.0 649.9 L1848.0 649.9 L1850.0 649.9 L1852.0 649.9 L1854.0 649.9 L1856.0 649.8 L1858.0 649.7 L1860.0 649.6 L1862.0 649.5 L1864.0 649.4 L1866.0 649.3 L1868.0 649.1 L1870.0 649.0 L1872.0 648.9 L1874.0 648.8 L1876.0 648.7 L1878.0 648.7 L1880.0 648.6 L1882.0 648.5 L1884.0 648.4 L1886.0 648.4 L1888.0 648.3 L1890.0 648.2 L1892.0 648.2 L1894.0 648.1 L1896.0 648.0 L1898.0 648.0 L1900.0 647.9 L1902.0 647.8 L1904.0 647.8 L1906.0 647.7 L1908.0 647.7 L1910.0 647.7 L1912.0 647.7 L1914.0 647.7 L1916.0 647.7 L1918.0 647.7 L1920.0 647.7 L1922.0 647.7 L1924.0 647.7 L1926.0 647.7 L1928.0 647.7 L1930.0 647.8 L1932.0 647.9 L1934.0 648.1 L1936.0 648.4 L1938.0 648.7 L1940.0 649.1 L1942.0 649.5 L1944.0 649.9 L1946.0 650.3 L1948.0 650.8 L1950.0 651.2 L1952.0 651.6 L1954.0 652.0 L1956.0 652.3 L1958.0 652.5 L1960.0 652.7 L1962.0 652.8 L1964.0 652.9 L1966.0 653.0 L1968.0 653.1 L1970.0 653.1 L1972.0 653.1 L1974.0 653.1 L1976.0 652.9 L1978.0 652.8 L1980.0 652.5 L1982.0 652.2 L1984.0 651.8 L1986.0 651.3 L1988.0 650.6 L1990.0 649.7 L1992.0 648.6 L1994.0 647.5 L1996.0 646.3 L1998.0 645.0 L2000.0 643.7 L2002.0 642.5 L2004.0 641.5 L2006.0 640.5 L2008.0 639.8 L2010.0 639.1 L2012.0 638.5 L2014.0 638.0 L2016.0 637.6 L2018.0 637.3 L2020.0 637.1 L2022.0 636.9 L2024.0 636.8 L2026.0 636.6 L2028.0 636.5 L2030.0 636.5 L2032.0 636.5 L2034.0 636.5 L2036.0 636.7 L2038.0 636.9 L2040.0 637.2 L2042.0 637.5 L2044.0 637.9 L2046.0 638.1" stroke="#000000"/>
</g>
<path d="M1122.5 496.6 V772.3 H2046.4" fill="none" stroke="#000" stroke-width="2.2" stroke-linecap="butt" stroke-linejoin="round"/>
<path d="M1362.3 772.3 v8.5M1615.5 772.3 v8.5M1868.6 772.3 v8.5M1122.5 512.9 h-8.5M1122.5 623.3 h-8.5M1122.5 734.3 h-8.5" stroke="#000" stroke-width="2.1" fill="none"/>
<g font-size="22.2">
<text x="1360.9" y="806.0" text-anchor="middle">126.25</text>
<text x="1614.1" y="806.0" text-anchor="middle">102.50</text>
<text x="1867.2" y="806.0" text-anchor="middle">78.75</text>
<text x="1103.6" y="520.9" text-anchor="end">800</text>
<text x="1103.6" y="631.3" text-anchor="end">600</text>
<text x="1103.6" y="742.3" text-anchor="end">400</text>
</g>
</g>
<g>
<g clip-path="url(#cpR3)">
<rect x="1276.8" y="836.4" width="141.0" height="277.3" fill="#117733" fill-opacity="0.3" stroke="#117733" stroke-opacity="0.26" stroke-width="2.78"/>
<rect x="1417.8" y="836.4" width="475.0" height="277.3" fill="#88ccee" fill-opacity="0.3" stroke="#88ccee" stroke-opacity="0.26" stroke-width="2.78"/>
</g>
<g clip-path="url(#cpR3)" fill="none" stroke-width="3.05" stroke-linejoin="round" stroke-linecap="butt">
<path d="M1130.0 1101.8 L1132.0 1101.8 L1134.0 1101.7 L1136.0 1101.6 L1138.0 1101.5 L1140.0 1101.4 L1142.0 1101.3 L1144.0 1101.2 L1146.0 1101.1 L1148.0 1101.0 L1150.0 1100.9 L1152.0 1100.8 L1154.0 1100.7 L1156.0 1100.6 L1158.0 1100.5 L1160.0 1100.4 L1162.0 1100.3 L1164.0 1100.3 L1166.0 1100.2 L1168.0 1100.1 L1170.0 1100.0 L1172.0 1099.9 L1174.0 1099.8 L1176.0 1099.7 L1178.0 1099.7 L1180.0 1099.6 L1182.0 1099.5 L1184.0 1099.4 L1186.0 1099.3 L1188.0 1099.2 L1190.0 1099.2 L1192.0 1099.1 L1194.0 1099.0 L1196.0 1098.9 L1198.0 1098.9 L1200.0 1098.8 L1202.0 1098.7 L1204.0 1098.7 L1206.0 1098.6 L1208.0 1098.5 L1210.0 1098.5 L1212.0 1098.4 L1214.0 1098.3 L1216.0 1098.3 L1218.0 1098.2 L1220.0 1098.1 L1222.0 1098.0 L1224.0 1098.0 L1226.0 1097.9 L1228.0 1097.8 L1230.0 1097.8 L1232.0 1097.7 L1234.0 1097.6 L1236.0 1097.5 L1238.0 1097.4 L1240.0 1097.4 L1242.0 1097.3 L1244.0 1097.2 L1246.0 1097.1 L1248.0 1097.0 L1250.0 1097.0 L1252.0 1096.9 L1254.0 1096.8 L1256.0 1096.6 L1258.0 1096.5 L1259.0 1096.5 L1274.5 1094.8 L1290.3 1088.1 L1306.3 1057.4 L1322.5 989.5 L1338.3 945.5 L1354.5 928.9 L1370.6 926.4 L1386.3 930.8 L1401.9 947.0 L1417.8 977.3 L1433.3 1005.7 L1449.2 1029.0 L1452.0 1032.2 L1454.0 1034.6 L1456.0 1036.9 L1458.0 1039.1 L1460.0 1041.3 L1462.0 1043.6 L1464.0 1045.8 L1466.0 1048.0 L1468.0 1050.1 L1470.0 1052.3 L1472.0 1054.3 L1474.0 1056.3 L1476.0 1058.3 L1478.0 1060.2 L1480.0 1062.0 L1482.0 1063.7 L1484.0 1065.4 L1486.0 1067.0 L1488.0 1068.5 L1490.0 1070.0 L1492.0 1071.5 L1494.0 1072.9 L1496.0 1074.2 L1498.0 1075.5 L1500.0 1076.8 L1502.0 1078.0 L1504.0 1079.1 L1506.0 1080.3 L1508.0 1081.4 L1510.0 1082.4 L1512.0 1083.4 L1514.0 1084.3 L1516.0 1085.2 L1518.0 1086.0 L1520.0 1086.9 L1522.0 1087.6 L1524.0 1088.4 L1526.0 1089.1 L1528.0 1089.7 L1530.0 1090.4 L1532.0 1091.0 L1534.0 1091.5 L1536.0 1092.1 L1538.0 1092.6 L1540.0 1093.0 L1542.0 1093.5 L1544.0 1093.9 L1546.0 1094.3 L1548.0 1094.6 L1550.0 1095.0 L1552.0 1095.2 L1554.0 1095.5 L1556.0 1095.8 L1558.0 1096.0 L1560.0 1096.2 L1562.0 1096.3 L1564.0 1096.5 L1566.0 1096.6 L1568.0 1096.7 L1570.0 1096.8 L1572.0 1096.9 L1574.0 1096.9 L1576.0 1097.0 L1578.0 1097.0 L1580.0 1097.0 L1582.0 1097.0 L1584.0 1097.1 L1586.0 1097.1 L1588.0 1097.1 L1590.0 1097.1 L1592.0 1097.1 L1594.0 1097.0 L1596.0 1097.0 L1598.0 1096.9 L1600.0 1096.8 L1602.0 1096.7 L1604.0 1096.6 L1606.0 1096.5 L1608.0 1096.4 L1610.0 1096.2 L1612.0 1096.0 L1614.0 1095.8 L1616.0 1095.6 L1618.0 1095.4 L1620.0 1095.1 L1622.0 1094.8 L1624.0 1094.5 L1626.0 1094.1 L1628.0 1093.7 L1630.0 1093.2 L1632.0 1092.8 L1634.0 1092.2 L1636.0 1091.6 L1638.0 1091.0 L1640.0 1090.4 L1642.0 1089.7 L1644.0 1089.0 L1646.0 1088.3 L1648.0 1087.6 L1650.0 1086.8 L1652.0 1086.1 L1654.0 1085.3 L1656.0 1084.6 L1658.0 1083.9 L1660.0 1083.2 L1662.0 1082.5 L1664.0 1081.9 L1666.0 1081.2 L1668.0 1080.6 L1670.0 1080.0 L1672.0 1079.4 L1674.0 1078.8 L1676.0 1078.3 L1678.0 1077.7 L1680.0 1077.2 L1682.0 1076.7 L1684.0 1076.2 L1686.0 1075.6 L1688.0 1075.1 L1690.0 1074.6 L1692.0 1074.1 L1694.0 1073.6 L1696.0 1073.1 L1698.0 1072.7 L1700.0 1072.2 L1702.0 1071.7 L1704.0 1071.2 L1706.0 1070.8 L1708.0 1070.3 L1710.0 1069.8 L1712.0 1069.4 L1714.0 1068.9 L1716.0 1068.5 L1718.0 1068.1 L1720.0 1067.6 L1722.0 1067.2 L1724.0 1066.8 L1726.0 1066.4 L1728.0 1066.0 L1730.0 1065.5 L1732.0 1065.1 L1734.0 1064.7 L1736.0 1064.3 L1738.0 1063.9 L1740.0 1063.5 L1742.0 1063.2 L1744.0 1062.8 L1746.0 1062.4 L1748.0 1062.0 L1750.0 1061.6 L1752.0 1061.3 L1754.0 1060.9 L1756.0 1060.5 L1758.0 1060.1 L1760.0 1059.7 L1762.0 1059.4 L1764.0 1059.0 L1766.0 1058.6 L1768.0 1058.2 L1770.0 1057.7 L1772.0 1057.3 L1774.0 1056.9 L1776.0 1056.5 L1778.0 1056.1 L1780.0 1055.7 L1782.0 1055.3 L1784.0 1054.9 L1786.0 1054.6 L1788.0 1054.2 L1790.0 1053.9 L1792.0 1053.6 L1794.0 1053.3 L1796.0 1053.0 L1798.0 1052.7 L1800.0 1052.4 L1802.0 1052.0 L1804.0 1051.6 L1806.0 1051.2 L1808.0 1050.7 L1810.0 1050.1 L1812.0 1049.5 L1814.0 1048.8 L1816.0 1048.1 L1818.0 1047.4 L1820.0 1046.6 L1822.0 1045.7 L1824.0 1044.7 L1826.0 1043.6 L1828.0 1042.4 L1830.0 1041.0 L1832.0 1039.4 L1834.0 1037.5 L1836.0 1035.5 L1838.0 1033.2 L1840.0 1030.8 L1842.0 1028.2 L1844.0 1025.5 L1846.0 1022.5 L1848.0 1019.2 L1850.0 1015.7 L1852.0 1011.8 L1854.0 1007.7 L1856.0 1003.1 L1858.0 998.1 L1860.0 993.0 L1862.0 988.0 L1864.0 983.1 L1866.0 978.5 L1868.0 974.0 L1870.0 969.8 L1872.0 966.0 L1874.0 962.4 L1876.0 959.3 L1878.0 956.3 L1880.0 953.7 L1882.0 951.3 L1884.0 949.1 L1886.0 947.0 L1888.0 945.2 L1890.0 943.5 L1892.0 942.0 L1894.0 940.7 L1896.0 939.6 L1898.0 938.5 L1900.0 937.5 L1902.0 936.6 L1904.0 935.9 L1906.0 935.2 L1908.0 934.7 L1910.0 934.3 L1912.0 933.9 L1914.0 933.6 L1916.0 933.3 L1918.0 933.1 L1920.0 932.9 L1922.0 932.8 L1924.0 932.8 L1926.0 932.9 L1928.0 933.0 L1930.0 933.1 L1932.0 933.2 L1934.0 933.4 L1936.0 933.5 L1938.0 933.6 L1940.0 933.8 L1942.0 933.9 L1944.0 933.9 L1946.0 934.0 L1948.0 933.9 L1950.0 933.8 L1952.0 933.5 L1954.0 933.2 L1956.0 932.8 L1958.0 932.4 L1960.0 931.9 L1962.0 931.5 L1964.0 931.2 L1966.0 930.8 L1968.0 930.6 L1970.0 930.5 L1972.0 930.5 L1974.0 930.7 L1976.0 931.0 L1978.0 931.5 L1980.0 932.0 L1982.0 932.7 L1984.0 933.4 L1986.0 934.2 L1988.0 935.2 L1990.0 936.3 L1992.0 937.6 L1994.0 939.1 L1996.0 940.6 L1998.0 942.0 L2000.0 943.4 L2002.0 944.7 L2004.0 946.0 L2006.0 947.3 L2008.0 948.6 L2010.0 949.8 L2012.0 950.8 L2014.0 951.8 L2016.0 952.6 L2018.0 953.3 L2020.0 954.0 L2022.0 954.6 L2024.0 955.1 L2026.0 955.5 L2028.0 955.8 L2030.0 956.0 L2032.0 956.0 L2034.0 956.0 L2036.0 955.9 L2038.0 955.9 L2040.0 955.7 L2042.0 955.5 L2044.0 955.3 L2046.0 955.1 L2046.5 955.0" stroke="#000000"/>
</g>
<path d="M1122.5 836.4 V1113.7 H2046.4" fill="none" stroke="#000" stroke-width="2.2" stroke-linecap="butt" stroke-linejoin="round"/>
<path d="M1362.3 1113.7 v8.5M1615.5 1113.7 v8.5M1868.6 1113.7 v8.5M1122.5 846.2 h-8.5M1122.5 914.3 h-8.5M1122.5 982.8 h-8.5M1122.5 1051.5 h-8.5" stroke="#000" stroke-width="2.1" fill="none"/>
<g font-size="22.2">
<text x="1360.9" y="1145.6" text-anchor="middle">126.25</text>
<text x="1614.1" y="1145.6" text-anchor="middle">102.50</text>
<text x="1867.2" y="1145.6" text-anchor="middle">78.75</text>
<text x="1103.6" y="854.2" text-anchor="end">400</text>
<text x="1103.6" y="922.3" text-anchor="end">300</text>
<text x="1103.6" y="990.8" text-anchor="end">200</text>
<text x="1103.6" y="1059.5" text-anchor="end">100</text>
</g>
</g>
<text x="456.85" y="140.9" font-size="26.67" letter-spacing="0.433">Temporal profile</text>
<text x="1487.25" y="140.9" font-size="26.67" letter-spacing="0.479">Spatial profile</text>
<text x="994.45" y="21.3" font-size="26.67" letter-spacing="0.35">thin2 @ 110</text>
<text x="502.80" y="1178.6" font-size="22.22" letter-spacing="0.36">Time [days]</text>
<text x="1436.20" y="1178.6" font-size="22.22" letter-spacing="0.336">Heliocentric distance [Rs]</text>
<text transform="translate(25.8 293.3) rotate(-90)" font-size="31.7" text-anchor="middle"><tspan font-style="italic">B</tspan> [nT]</text>
<text transform="translate(30.6 634.7) rotate(-90)" font-size="31.7" text-anchor="middle"><tspan font-style="italic">V</tspan> [km/s]</text>
<text transform="translate(28.7 975.9) rotate(-90)" font-size="31.7" text-anchor="middle"><tspan font-style="italic">n</tspan> [cm<tspan font-size="22.1" dx="0.8" dy="-10.5">−3</tspan><tspan dx="0.4" dy="10.5">]</tspan></text>
<path d="M890.3 60.6 H939.0" stroke="#0077bb" stroke-width="3.05" fill="none"/>
<text x="957.5" y="67.8" font-size="22.2"><tspan font-style="italic">B</tspan><tspan font-size="15.5" dy="2.9">R</tspan></text>
<path d="M1029.3 60.6 H1077.2" stroke="#d02c0e" stroke-width="3.05" fill="none"/>
<text x="1096.5" y="67.8" font-size="22.2"><tspan font-style="italic">B</tspan><tspan font-size="15.5" dy="2.9">T</tspan></text>
<path d="M1167.5 60.6 H1217.0" stroke="#009988" stroke-width="3.05" fill="none"/>
<text x="1234.5" y="67.8" font-size="22.2"><tspan font-style="italic">B</tspan><tspan font-size="15.5" dy="2.9">N</tspan></text>
</svg>
</body>
</html>
